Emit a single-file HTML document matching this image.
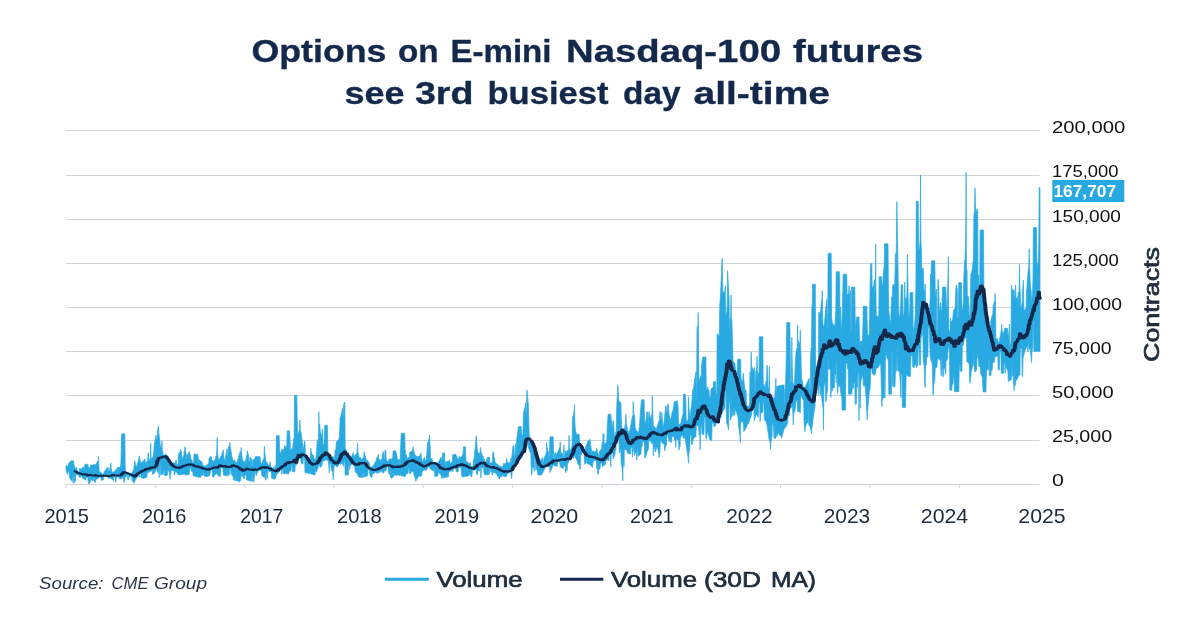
<!DOCTYPE html>
<html lang="en"><head><meta charset="utf-8"><title>Options on E-mini Nasdaq-100 futures see 3rd busiest day all-time</title>
<style>
html,body{margin:0;padding:0;background:#fff;}
body{width:1200px;height:627px;overflow:hidden;font-family:"Liberation Sans",sans-serif;}
svg{display:block}
.title{font:bold 31.5px "Liberation Sans",sans-serif;fill:#13284b;stroke:#13284b;stroke-width:0.35px;}
.grid line{stroke:#d0d4da;stroke-width:1;}
.ticks line{stroke:#d6dade;stroke-width:1.2;}
.ylab text{font:17px "Liberation Sans",sans-serif;fill:#111;}
.xlab text{font:19.8px "Liberation Sans",sans-serif;fill:#1f2b3a;text-anchor:middle;}
.leg{font:22.2px "Liberation Sans",sans-serif;fill:#1f2d3d;stroke:#1f2d3d;stroke-width:0.7px;}
.src{font:italic 17px "Liberation Sans",sans-serif;fill:#2a3646;}
</style></head><body>
<svg width="1200" height="627" viewBox="0 0 1200 627">
<rect width="1200" height="627" fill="#fff"/>
<text class="title" y="62"><tspan x="251.49" textLength="135.02" lengthAdjust="spacingAndGlyphs">Options</tspan> <tspan x="397.97" textLength="40.61" lengthAdjust="spacingAndGlyphs">on</tspan> <tspan x="450.49" textLength="101.02" lengthAdjust="spacingAndGlyphs">E-mini</tspan> <tspan x="566.00" textLength="215.01" lengthAdjust="spacingAndGlyphs">Nasdaq-100</tspan> <tspan x="792.99" textLength="130.02" lengthAdjust="spacingAndGlyphs">futures</tspan></text>
<text class="title" y="104"><tspan x="344.47" textLength="60.05" lengthAdjust="spacingAndGlyphs">see</tspan> <tspan x="414.96" textLength="58.55" lengthAdjust="spacingAndGlyphs">3rd</tspan> <tspan x="487.50" textLength="120.99" lengthAdjust="spacingAndGlyphs">busiest</tspan> <tspan x="623.00" textLength="57.51" lengthAdjust="spacingAndGlyphs">day</tspan> <tspan x="693.49" textLength="136.52" lengthAdjust="spacingAndGlyphs">all-time</tspan></text>
<g class="grid"><line x1="66" x2="1039.5" y1="130.50" y2="130.50"/><line x1="66" x2="1039.5" y1="175.50" y2="175.50"/><line x1="66" x2="1039.5" y1="219.50" y2="219.50"/><line x1="66" x2="1039.5" y1="263.50" y2="263.50"/><line x1="66" x2="1039.5" y1="307.50" y2="307.50"/><line x1="66" x2="1039.5" y1="351.50" y2="351.50"/><line x1="66" x2="1039.5" y1="395.50" y2="395.50"/><line x1="66" x2="1039.5" y1="440.50" y2="440.50"/><line x1="66" x2="1039.5" y1="484.50" y2="484.50"/></g>
<g class="ticks"><line x1="66.0" x2="66.0" y1="484.5" y2="488"/><line x1="155.3" x2="155.3" y1="484.5" y2="488"/><line x1="244.7" x2="244.7" y1="484.5" y2="488"/><line x1="334.0" x2="334.0" y1="484.5" y2="488"/><line x1="423.3" x2="423.3" y1="484.5" y2="488"/><line x1="512.6" x2="512.6" y1="484.5" y2="488"/><line x1="602.0" x2="602.0" y1="484.5" y2="488"/><line x1="691.3" x2="691.3" y1="484.5" y2="488"/><line x1="780.6" x2="780.6" y1="484.5" y2="488"/><line x1="870.0" x2="870.0" y1="484.5" y2="488"/><line x1="959.3" x2="959.3" y1="484.5" y2="488"/></g>
<path d="M66,465.4 66.4,465.6 66.8,465.8 67.2,466 67.5,466.2 67.9,466.3 68.3,466.3 68.7,463.1 69.1,462.8 69.5,462.5 69.9,462.2 70.3,461.9 70.6,461 71,460.8 71.4,460.8 71.8,460.8 72.2,460.8 72.6,460.8 73,460.8 73.3,460.8 73.7,463.2 74.1,464.8 74.5,466.5 74.9,468.2 75.3,468.2 75.7,467.9 76.1,467.9 76.4,467.6 76.8,467.4 77.2,471.4 77.6,471.6 78,471.9 78.4,472.1 78.8,472.2 79.1,472.4 79.5,469.7 79.9,468 80.3,469.3 80.7,469.2 81.1,469 81.5,468.9 81.9,468.7 82.2,467.8 82.6,467.6 83,467.4 83.4,467.1 83.8,466.9 84.2,471.6 84.6,466.3 84.9,464.2 85.3,464.2 85.7,464.2 86.1,464.2 86.5,464.2 86.9,464.2 87.3,464.2 87.7,464.2 88,465.7 88.4,466.7 88.8,467.6 89.2,468.4 89.6,467.7 90,466.9 90.4,466.2 90.7,465 91.1,465 91.5,465 91.9,465 92.3,465 92.7,465 93.1,465 93.5,464.8 93.8,464.3 94.2,464 94.6,465.6 95,465.2 95.4,464.8 95.8,464.3 96.2,463.8 96.5,463.2 96.9,462.5 97.3,461.9 97.7,461.3 98.1,463 98.5,456.7 98.9,466.3 99.3,471.7 99.6,471.8 100,472 100.4,472.1 100.8,472.2 101.2,472.4 101.6,474.4 102,474.3 102.3,474.1 102.7,474 103.1,473.8 103.5,473.6 103.9,473.4 104.3,470.9 104.7,470.8 105.1,470.7 105.4,470.5 105.8,470.4 106.2,468.7 106.6,468.5 107,468.3 107.4,468.1 107.8,467.8 108.1,467.3 108.5,471.5 108.9,471.2 109.3,470.9 109.7,470.6 110.1,467.1 110.5,466.7 110.9,463 111.2,468.5 111.6,470.6 112,472.6 112.4,472.6 112.8,472.3 113.2,472.1 113.6,471.8 113.9,471.6 114.3,471.4 114.7,471.2 115.1,471 115.5,470.8 115.9,469.5 116.3,469.3 116.7,469.1 117,468.8 117.4,467.5 117.8,467.4 118.2,467.3 118.6,467.2 119,467.1 119.4,467 119.7,467.9 120.1,467.1 120.5,467 120.9,463.4 121.3,444.9 121.7,433.8 122.1,433.8 122.5,433.8 122.8,433.8 123.2,433.8 123.6,433.8 124,433.8 124.4,433.8 124.8,433.8 125.2,465.5 125.5,472.4 125.9,472.5 126.3,472.5 126.7,472.6 127.1,472.8 127.5,472.9 127.9,473.1 128.3,473.2 128.6,472.9 129,472.8 129.4,473 129.8,473.1 130.2,473.3 130.6,473.4 131,473.6 131.3,473.5 131.7,473.2 132.1,472.6 132.5,472 132.9,471.2 133.3,470.4 133.7,469.6 134.1,466.1 134.4,464.9 134.8,460.8 135.2,463 135.6,464.2 136,465.4 136.4,466.6 136.8,467.1 137.1,464.6 137.5,462.9 137.9,463.2 138.3,460.5 138.7,459 139.1,455.8 139.5,457.2 139.9,459 140.2,460.8 140.6,462.5 141,463.2 141.4,462.7 141.8,462.1 142.2,461.6 142.6,461.1 142.9,463.9 143.3,462.2 143.7,460.3 144.1,459.8 144.5,459.3 144.9,458.7 145.3,463.1 145.7,462.7 146,462.3 146.4,461.9 146.8,461.6 147.2,461.2 147.6,460.9 148,453.5 148.4,452.7 148.7,461 149.1,460.8 149.5,459.9 149.9,459 150.3,458.1 150.7,443.3 151.1,457.5 151.5,458.6 151.8,459.8 152.2,457.6 152.6,458.4 153,456.8 153.4,455.2 153.8,451.3 154.2,445.6 154.5,443.3 154.9,440.7 155.3,439 155.7,437.1 156.1,435.2 156.5,439.9 156.9,439 157.3,437.7 157.6,429.8 158,428.5 158.4,425.8 158.8,432.2 159.2,436.1 159.6,439.3 160,442.5 160.3,445.3 160.7,448 161.1,448 161.5,446.6 161.9,440.8 162.3,449.7 162.7,451.9 163.1,454.2 163.4,455.8 163.8,455.7 164.2,455.5 164.6,455.3 165,455.2 165.4,454 165.8,453.8 166.1,454.2 166.5,454.7 166.9,455.2 167.3,455.7 167.7,456.2 168.1,456.7 168.5,457 168.9,457.8 169.2,458 169.6,460.7 170,461.3 170.4,461.3 170.8,461.9 171.2,462.4 171.6,462.9 171.9,463.2 172.3,462.9 172.7,463.1 173.1,463.4 173.5,462.8 173.9,462.9 174.3,463.1 174.7,463.3 175,463.3 175.4,462.2 175.8,461.1 176.2,459.9 176.6,464.8 177,464.6 177.4,464.4 177.7,464.1 178.1,463.7 178.5,453.5 178.9,454.9 179.3,454.1 179.7,451.9 180.1,451.4 180.5,450.8 180.8,449.2 181.2,451.6 181.6,454.2 182,457.4 182.4,458.3 182.8,457.9 183.2,457 183.5,456 183.9,455.1 184.3,450.9 184.7,449.8 185.1,446.7 185.5,451 185.9,452.7 186.3,454.4 186.6,456 187,460 187.4,454.1 187.8,459.4 188.2,455.4 188.6,452.5 189,451.9 189.3,451.7 189.7,453.7 190.1,454.6 190.5,455.4 190.9,458.6 191.3,459.3 191.7,460.1 192.1,460.4 192.4,463.1 192.8,463 193.2,462.9 193.6,462.8 194,454.2 194.4,454.2 194.8,454.2 195.1,454.2 195.5,454.2 195.9,454.2 196.3,454.2 196.7,454.2 197.1,454.2 197.5,454.2 197.9,455.4 198.2,456.8 198.6,464.9 199,459.5 199.4,460.2 199.8,460.5 200.2,460.7 200.6,461 200.9,461.2 201.3,461.5 201.7,461.7 202.1,461.9 202.5,465.2 202.9,465.4 203.3,465.5 203.7,465.7 204,465.8 204.4,466 204.8,466.2 205.2,466.1 205.6,466 206,465.5 206.4,465.3 206.7,465 207.1,464.7 207.5,464.4 207.9,464.1 208.3,463.8 208.7,463.5 209.1,458.2 209.5,460.8 209.8,456.7 210.2,456.7 210.6,456.7 211,456.7 211.4,456.7 211.8,460.8 212.2,460.7 212.5,460.6 212.9,460 213.3,461.8 213.7,461.4 214.1,460.9 214.5,460.4 214.9,459.8 215.3,458.9 215.6,457.6 216,456.3 216.4,455.1 216.8,450.9 217.2,437.5 217.6,453 218,456.4 218.3,459.6 218.7,459.3 219.1,459 219.5,458.6 219.9,461.5 220.3,456.9 220.7,456.4 221.1,456.3 221.4,456.2 221.8,454.7 222.2,452.3 222.6,455.8 223,450.2 223.4,450 223.8,457 224.1,458.3 224.5,459.6 224.9,460.9 225.3,460.1 225.7,455.8 226.1,454 226.5,452.1 226.9,450.2 227.2,448.6 227.6,457.8 228,457.6 228.4,447 228.8,446.5 229.2,445.9 229.6,445.4 229.9,442.5 230.3,447.1 230.7,448.6 231.1,451.4 231.5,454.2 231.9,457.1 232.3,457.7 232.7,459.3 233,459.8 233.4,460.4 233.8,461 234.2,460 234.6,460.6 235,461.1 235.4,461.6 235.7,462.1 236.1,462.6 236.5,463.1 236.9,462.6 237.3,461.3 237.7,460 238.1,458.7 238.5,457.4 238.8,456.1 239.2,454.8 239.6,453.4 240,451.9 240.4,451.3 240.8,460.4 241.2,447.5 241.5,453.2 241.9,455.9 242.3,458.7 242.7,460.2 243.1,460.7 243.5,461.2 243.9,461.6 244.3,462 244.6,462.1 245,461.6 245.4,459.9 245.8,464.6 246.2,457.8 246.6,456.2 247,454.7 247.3,450.8 247.7,453.1 248.1,453.9 248.5,454.7 248.9,461.2 249.3,461.7 249.7,462.2 250.1,457.3 250.4,457.7 250.8,458.1 251.2,458.4 251.6,458.8 252,466.2 252.4,466.3 252.8,459.6 253.1,460 253.5,460 253.9,459.6 254.3,459.2 254.7,458.9 255.1,456.7 255.5,456.6 255.9,456.6 256.2,456.5 256.6,456.5 257,456.4 257.4,456.3 257.8,456.4 258.2,456.4 258.6,456.5 258.9,456.5 259.3,456.6 259.7,456.6 260.1,456.7 260.5,461.4 260.9,462.1 261.3,463.9 261.7,464.4 262,463.3 262.4,462.1 262.8,460.9 263.2,459.7 263.6,458.5 264,457.4 264.4,446.3 264.7,451.4 265.1,454.8 265.5,458.2 265.9,461 266.3,461.8 266.7,462.4 267.1,462.5 267.5,463.2 267.8,464 268.2,464.8 268.6,465.3 269,464.9 269.4,464.4 269.8,464 270.2,461.7 270.5,466 270.9,466.6 271.3,467.1 271.7,467.6 272.1,468.2 272.5,468.7 272.9,468.8 273.3,466.8 273.6,468.3 274,468.3 274.4,468.2 274.8,468.1 275.2,465.4 275.6,469.5 276,467.3 276.3,435.5 276.7,435.5 277.1,435.5 277.5,435.5 277.9,435.5 278.3,435.5 278.7,435.5 279.1,435.5 279.4,441.9 279.8,451 280.2,454.4 280.6,453.3 281,452.1 281.4,451 281.8,449.8 282.1,448.7 282.5,450.2 282.9,450 283.3,449.7 283.7,449.4 284.1,449.2 284.5,446.6 284.9,445.8 285.2,446.2 285.6,446.8 286,447.4 286.4,447.9 286.8,444.2 287.2,430.8 287.6,430.8 287.9,430.8 288.3,430.8 288.7,430.8 289.1,430.8 289.5,430.8 289.9,436.7 290.3,447.3 290.7,457.6 291,449.4 291.4,448.9 291.8,448.7 292.2,448.6 292.6,447.8 293,444.7 293.4,441.7 293.7,438.6 294.1,439.9 294.5,395.3 294.9,395.3 295.3,395.3 295.7,395.3 296.1,395.3 296.5,395.3 296.8,395.3 297.2,417.6 297.6,433.4 298,434.5 298.4,433.1 298.8,431.7 299.2,430.4 299.5,429 299.9,420 300.3,429.4 300.7,432.1 301.1,432.6 301.5,435.7 301.9,438.6 302.3,441.4 302.6,444.1 303,451.6 303.4,448 303.8,445.8 304.2,443.7 304.6,440.8 305,442.5 305.3,452.7 305.7,453.6 306.1,454.5 306.5,455.4 306.9,456.1 307.3,456.9 307.7,457.4 308.1,458 308.4,458.5 308.8,459 309.2,459.5 309.6,459.6 310,459.7 310.4,459.9 310.8,448.3 311.1,451.7 311.5,452.6 311.9,453.4 312.3,454.3 312.7,455.2 313.1,456 313.5,455 313.8,458 314.2,458.4 314.6,458.7 315,459.1 315.4,459.4 315.8,459.1 316.2,455.2 316.6,450.6 316.9,446.1 317.3,439.5 317.7,446 318.1,442.1 318.5,443.8 318.9,411.7 319.3,442.7 319.6,424 320,428.4 320.4,431.7 320.8,433.4 321.2,434.7 321.6,436.1 322,434.3 322.4,429.2 322.7,432.9 323.1,444.3 323.5,446.1 323.9,444.9 324.3,441.7 324.7,425.3 325.1,425.3 325.4,425.3 325.8,425.3 326.2,425.3 326.6,425.3 327,425.3 327.4,425.3 327.8,450.5 328.2,454 328.5,454.6 328.9,455.2 329.3,455.8 329.7,456.5 330.1,457.1 330.5,457.7 330.9,457.2 331.2,457.5 331.6,457.8 332,458.6 332.4,458.4 332.8,456.2 333.2,457.2 333.6,457.4 334,457.6 334.3,457.9 334.7,458.1 335.1,450.1 335.5,449.9 335.9,449.7 336.3,442.8 336.7,441.4 337,441.2 337.4,440.9 337.8,440.7 338.2,439.9 338.6,439.6 339,439.2 339.4,435.6 339.8,428.7 340.1,418.3 340.5,417.4 340.9,415.6 341.3,413.9 341.7,412.1 342.1,410.3 342.5,408.3 342.8,414.7 343.2,415.8 343.6,405.2 344,404.1 344.4,403 344.8,402 345.2,448.3 345.6,448.6 345.9,448.8 346.3,452.5 346.7,452.8 347.1,453.4 347.5,453.9 347.9,452.5 348.3,453.3 348.6,454.2 349,455 349.4,455.5 349.8,455.8 350.2,455.7 350.6,456 351,456.3 351.4,456.6 351.7,456.6 352.1,455.6 352.5,454.6 352.9,453.6 353.3,452.6 353.7,456.8 354.1,456.2 354.4,455.8 354.8,455.4 355.2,454.9 355.6,454.5 356,454.1 356.4,453.8 356.8,455.1 357.2,450 357.5,443.3 357.9,451.6 358.3,453.4 358.7,455.3 359.1,457.7 359.5,457.1 359.9,457.3 360.2,457.4 360.6,457.6 361,459.2 361.4,459.3 361.8,459.3 362.2,458.8 362.6,458.5 363,458.1 363.3,457.6 363.7,457.2 364.1,451.7 364.5,453.6 364.9,454.8 365.3,456 365.7,457.3 366,458.7 366.4,462.4 366.8,460 367.2,460.5 367.6,460.9 368,461.3 368.4,461.7 368.8,462.1 369.1,462.5 369.5,466.1 369.9,466.4 370.3,466.7 370.7,467 371.1,467.2 371.5,467.4 371.8,467.5 372.2,466.4 372.6,466.4 373,465.9 373.4,465.4 373.8,465 374.2,463.8 374.6,463.2 374.9,462.6 375.3,462.1 375.7,461.6 376.1,461.1 376.5,458.1 376.9,457.4 377.3,457.8 377.6,457.2 378,455.9 378.4,454.2 378.8,458.4 379.2,458.9 379.6,459.3 380,459.8 380.4,460.2 380.7,460.6 381.1,460 381.5,459.1 381.9,462.9 382.3,454.6 382.7,453.4 383.1,452.3 383.4,451.5 383.8,453.4 384.2,460 384.6,459.9 385,450.3 385.4,450.2 385.8,450 386.2,459.3 386.5,460 386.9,460.6 387.3,461.3 387.7,461.6 388.1,461.7 388.5,461.8 388.9,458.9 389.2,459 389.6,459.8 390,460 390.4,459.3 390.8,458.7 391.2,459.8 391.6,459.3 392,458.8 392.3,458.3 392.7,457.9 393.1,451.3 393.5,450.8 393.9,450.8 394.3,450.8 394.7,450.8 395,450.8 395.4,450.8 395.8,450.8 396.2,453.1 396.6,454.8 397,456.5 397.4,459.7 397.8,460 398.1,459.8 398.5,459.6 398.9,459.4 399.3,459.1 399.7,464.6 400.1,464.1 400.5,449.7 400.8,443.4 401.2,433.3 401.6,433.3 402,433.3 402.4,433.3 402.8,433.3 403.2,433.3 403.6,433.3 403.9,433.3 404.3,433.3 404.7,433.3 405.1,448.6 405.5,453.8 405.9,454.4 406.3,454.8 406.6,456.8 407,458.2 407.4,458.4 407.8,458.1 408.2,457.7 408.6,457.2 409,456.8 409.4,456.3 409.7,452.1 410.1,452.5 410.5,452.1 410.9,451.6 411.3,451.2 411.7,450.8 412.1,450.4 412.4,450 412.8,449.6 413.2,446.7 413.6,449.8 414,451.5 414.4,453.2 414.8,454.9 415.2,455.1 415.5,455.4 415.9,455.7 416.3,455.9 416.7,456.2 417.1,456.7 417.5,457 417.9,456.2 418.2,456.9 418.6,456.6 419,456.2 419.4,455.8 419.8,455.3 420.2,455 420.6,458.7 421,452.5 421.3,457.4 421.7,458.4 422.1,461.5 422.5,462.2 422.9,461.1 423.3,460.1 423.7,459.1 424,457.7 424.4,457.7 424.8,457.6 425.2,460.8 425.6,460.6 426,460.3 426.4,460.1 426.8,452.1 427.1,449.5 427.5,442.6 427.9,456.6 428.3,441 428.7,439.7 429.1,438.4 429.5,435 429.8,441.5 430.2,446.5 430.6,458.8 431,458.8 431.4,458.7 431.8,458.7 432.2,458.8 432.6,461 432.9,462.5 433.3,462.8 433.7,462.4 434.1,462.5 434.5,462.4 434.9,462.4 435.3,462.5 435.6,462.8 436,463 436.4,463.2 436.8,463.2 437.2,463 437.6,462.8 438,462.5 438.4,462.3 438.7,461.5 439.1,460.8 439.5,460.1 439.9,459.3 440.3,458.6 440.7,457.5 441.1,457.3 441.4,459.6 441.8,459.3 442.2,459.1 442.6,453 443,453 443.4,453 443.8,453 444.2,453 444.5,453 444.9,463.4 445.3,464.6 445.7,461.3 446.1,461.7 446.5,461.5 446.9,461.3 447.2,461.1 447.6,461.9 448,461.8 448.4,460.8 448.8,463.3 449.2,461 449.6,459.8 450,463.7 450.3,463.3 450.7,463 451.1,462.6 451.5,462.2 451.9,461.9 452.3,461.5 452.7,454.6 453,455.2 453.4,455.1 453.8,455.1 454.2,454.2 454.6,454.4 455,454.3 455.4,454.2 455.8,454.2 456.1,455.5 456.5,456 456.9,457 457.3,457.9 457.7,459.7 458.1,459.2 458.5,458.8 458.8,458.4 459.2,456.1 459.6,459.8 460,457.9 460.4,457.5 460.8,457.1 461.2,456.8 461.6,456.4 461.9,456 462.3,455.6 462.7,454.7 463.1,453.1 463.5,446.7 463.9,446.7 464.3,446.7 464.6,446.7 465,446.7 465.4,446.7 465.8,456.7 466.2,461.7 466.6,462.1 467,462.5 467.4,461.8 467.7,462.2 468.1,462.6 468.5,463 468.9,463.5 469.3,463.6 469.7,463.3 470.1,463 470.4,462.7 470.8,466.6 471.2,466.5 471.6,466.5 472,466.4 472.4,466.4 472.8,466.1 473.2,465.7 473.5,460.3 473.9,459.1 474.3,457.9 474.7,451.2 475.1,448.5 475.5,445.3 475.9,438.5 476.2,435.8 476.6,441.5 477,446 477.4,450.6 477.8,452 478.2,452.9 478.6,453.3 479,453.7 479.3,454.4 479.7,452.9 480.1,451.4 480.5,447.5 480.9,451.2 481.3,452.4 481.7,453.6 482,457.5 482.4,455.2 482.8,455.9 483.2,456.9 483.6,457.9 484,459 484.4,460 484.8,462.7 485.1,463.1 485.5,463.1 485.9,463.1 486.3,463.2 486.7,458.9 487.1,458.2 487.5,457.5 487.8,457.4 488.2,457.3 488.6,457.2 489,457.1 489.4,457 489.8,463 490.2,463 490.6,463 490.9,462.9 491.3,462.7 491.7,462.5 492.1,462.2 492.5,462 492.9,453.1 493.3,459.3 493.6,451.7 494,460.4 494.4,457.8 494.8,460.5 495.2,462.1 495.6,462.5 496,463.4 496.4,463.4 496.7,463.7 497.1,464.1 497.5,464.5 497.9,464.9 498.3,465.2 498.7,465.4 499.1,465.8 499.4,466 499.8,466.2 500.2,466.4 500.6,466.6 501,466.8 501.4,467 501.8,466.9 502.2,466.3 502.5,466.4 502.9,465.9 503.3,465.4 503.7,463.2 504.1,464.3 504.5,464 504.9,463.6 505.2,463.3 505.6,462.9 506,462.5 506.4,462.1 506.8,458.3 507.2,462 507.6,462.2 508,462.4 508.3,462.6 508.7,462.8 509.1,462.9 509.5,462.6 509.9,462.6 510.3,462.2 510.7,458.1 511,463.2 511.4,462.8 511.8,456.7 512.2,453.4 512.6,450.1 513,445.8 513.4,445.8 513.8,445.8 514.1,453.7 514.5,457.1 514.9,456.8 515.3,444.9 515.7,443.8 516.1,457.2 516.5,441.2 516.8,439.1 517.2,436.1 517.6,433 518,430 518.4,426.7 518.8,426.6 519.2,426.6 519.6,426.5 519.9,426.5 520.3,426.4 520.7,426.4 521.1,426.4 521.5,431.2 521.9,434.9 522.3,435.3 522.6,436.7 523,432.2 523.4,413.3 523.8,411.8 524.2,410.2 524.6,408.6 525,406.9 525.4,405.2 525.7,402.6 526.1,416.4 526.5,418.3 526.9,390 527.3,393.2 527.7,397.6 528.1,401.9 528.4,405 528.8,423 529.2,435 529.6,436.3 530,437.5 530.4,438.7 530.8,439.8 531.2,440.4 531.5,441.1 531.9,441.7 532.3,442.3 532.7,442.9 533.1,443.6 533.5,444.1 533.9,444.4 534.2,445.2 534.6,446 535,446.7 535.4,447.5 535.8,448.3 536.2,449.3 536.6,451.2 537,452.3 537.3,453.3 537.7,454.4 538.1,455.5 538.5,456.1 538.9,457.2 539.3,458 539.7,458.7 540,460.1 540.4,460.8 540.8,460.4 541.2,459.7 541.6,459.1 542,458.4 542.4,457.4 542.8,461.1 543.1,463.3 543.5,463 543.9,458.7 544.3,457.7 544.7,456.8 545.1,455.9 545.5,455.1 545.8,454.2 546.2,453.4 546.6,442.5 547,447.2 547.4,449 547.8,450.8 548.2,452.6 548.6,451.7 548.9,459.2 549.3,458.2 549.7,443.3 550.1,436.7 550.5,436.7 550.9,436.7 551.3,436.7 551.6,436.7 552,436.7 552.4,436.7 552.8,436.7 553.2,436.7 553.6,457.4 554,457.5 554.4,458.7 554.7,453 555.1,452.7 555.5,452.4 555.9,454.7 556.3,454.1 556.7,453.9 557.1,453.3 557.4,452.7 557.8,452.1 558.2,451.3 558.6,450.5 559,449.3 559.4,448.1 559.8,450.1 560.2,441.7 560.5,451 560.9,452 561.3,453 561.7,453.9 562.1,453.5 562.5,453.1 562.9,457.5 563.2,457.4 563.6,457.3 564,445 564.4,457.4 564.8,457.7 565.2,450.3 565.6,451.7 566,452.5 566.3,452 566.7,451.5 567.1,451.1 567.5,450.6 567.9,450.1 568.3,449.6 568.7,453 569,435.2 569.4,450.8 569.8,450.6 570.2,450.1 570.6,449.3 571,448.6 571.4,447.8 571.8,446.3 572.1,444.9 572.5,418.2 572.9,416.1 573.3,416.3 573.7,414.7 574.1,410.5 574.5,404.7 574.8,420.1 575.2,428.2 575.6,431.3 576,432.8 576.4,434.3 576.8,434.2 577.2,434.2 577.6,434.2 577.9,434.2 578.3,434.2 578.7,434.2 579.1,434.2 579.5,439.3 579.9,443.5 580.3,444.4 580.6,443.9 581,444.1 581.4,444.4 581.8,444.7 582.2,445 582.6,446.8 583,447.5 583.4,448.2 583.7,448.2 584.1,448.8 584.5,449.3 584.9,449.8 585.3,449.5 585.7,446.6 586.1,445.6 586.4,444.5 586.8,444.1 587.2,443.2 587.6,441.6 588,441.2 588.4,440.8 588.8,440.4 589.2,440 589.5,439.6 589.9,439.2 590.3,442.1 590.7,444.9 591.1,447.7 591.5,450.5 591.9,451.7 592.2,451.5 592.6,451.3 593,451 593.4,450.8 593.8,452.1 594.2,452 594.6,451.8 595,451.7 595.3,451.5 595.7,451.3 596.1,452.1 596.5,448.3 596.9,448.6 597.3,452.7 597.7,453.1 598,453.5 598.4,454 598.8,457.7 599.2,458 599.6,451.3 600,450.8 600.4,450.3 600.8,449.8 601.1,449.3 601.5,448.6 601.9,445.9 602.3,442.2 602.7,456 603.1,433.3 603.5,455.2 603.8,434.1 604.2,443.9 604.6,444 605,444 605.4,443.4 605.8,442.8 606.2,442.2 606.6,441.5 606.9,439.1 607.3,425.4 607.7,420.7 608.1,414.2 608.5,414.2 608.9,414.2 609.3,414.2 609.6,414.2 610,414.2 610.4,414.2 610.8,414.2 611.2,419.3 611.6,423.2 612,427.9 612.4,425.9 612.7,423.2 613.1,420.6 613.5,421.8 613.9,427.4 614.3,437.7 614.7,436.3 615.1,434.8 615.4,433.4 615.8,432 616.2,430.9 616.6,411.6 617,400.2 617.4,396 617.8,384.8 618.2,390 618.5,398.2 618.9,401 619.3,401.3 619.7,401.6 620.1,401.9 620.5,402.2 620.9,402.5 621.2,417.9 621.6,423.7 622,430.3 622.4,430.2 622.8,430.4 623.2,429.4 623.6,429.7 624,430.5 624.3,429.7 624.7,427.4 625.1,425.3 625.5,423.3 625.9,414.2 626.3,422.7 626.7,424.8 627,426.9 627.4,429.1 627.8,430.2 628.2,431.2 628.6,432.2 629,433.2 629.4,432.2 629.8,430.3 630.1,428.4 630.5,426.4 630.9,424.4 631.3,422.1 631.7,419.9 632.1,418 632.5,416.1 632.8,424.8 633.2,401.7 633.6,412.3 634,416.1 634.4,415 634.8,418.4 635.2,427.5 635.6,428.3 635.9,429.2 636.3,430.2 636.7,431 637.1,431.3 637.5,431.6 637.9,431.9 638.3,432.2 638.6,433.5 639,429.8 639.4,426.5 639.8,421.1 640.2,415.7 640.6,410.2 641,404.8 641.4,399.7 641.7,399.7 642.1,399.7 642.5,399.7 642.9,399.7 643.3,399.7 643.7,399.7 644.1,399.7 644.4,414 644.8,420.9 645.2,424.9 645.6,423.1 646,420.1 646.4,418.1 646.8,411.7 647.2,411.8 647.5,412 647.9,418.1 648.3,429.7 648.7,414 649.1,411.7 649.5,415.2 649.9,416.5 650.2,417.7 650.6,418.9 651,416.7 651.4,414.7 651.8,429.4 652.2,395.8 652.6,405.9 653,418.7 653.3,426.5 653.7,431.8 654.1,426.2 654.5,426.7 654.9,427.2 655.3,427.7 655.7,428.2 656,429.7 656.4,428.6 656.8,427.4 657.2,426.3 657.6,425.2 658,424 658.4,422.9 658.8,421.2 659.1,420.5 659.5,419.7 659.9,411.7 660.3,411.8 660.7,419 661.1,419.1 661.5,419.3 661.8,412.5 662.2,417.9 662.6,421.5 663,425.2 663.4,428 663.8,424.6 664.2,421.1 664.6,417.6 664.9,414.1 665.3,410.7 665.7,406.1 666.1,406 666.5,412.5 666.9,412.3 667.3,412.2 667.6,404.4 668,404.3 668.4,404.2 668.8,412.4 669.2,415 669.6,417.7 670,420.4 670.4,419.6 670.7,418.5 671.1,417.5 671.5,416.4 671.9,413.2 672.3,412 672.7,410.5 673.1,413.5 673.4,407.4 673.8,405.6 674.2,401.7 674.6,401.6 675,401.5 675.4,401.4 675.8,401.3 676.2,403.5 676.5,401.1 676.9,401 677.3,400.8 677.7,403.3 678.1,406.5 678.5,425.6 678.9,423.8 679.2,424.9 679.6,424.7 680,424.6 680.4,423.9 680.8,423.1 681.2,422 681.6,419 682,417.7 682.3,416.4 682.7,415.1 683.1,413.8 683.5,394.2 683.9,394.2 684.3,394.2 684.7,394.2 685,394.2 685.4,394.2 685.8,401.5 686.2,420.3 686.6,421.4 687,421.1 687.4,420.3 687.8,419.8 688.1,419.3 688.5,396.7 688.9,407.1 689.3,411 689.7,415 690.1,415.9 690.5,413.1 690.8,410.4 691.2,407.7 691.6,404.6 692,399.7 692.4,394.4 692.8,389.2 693.2,394.8 693.6,390.4 693.9,386.1 694.3,381.9 694.7,378.3 695.1,378.7 695.5,375.3 695.9,372 696.3,406.9 696.6,382.1 697,329.9 697.4,326 697.8,385.6 698.2,312.5 698.6,355.4 699,381.6 699.4,380.4 699.7,379.2 700.1,378.1 700.5,376.9 700.9,375.8 701.3,374.7 701.7,365.3 702.1,360.7 702.4,359.4 702.8,357 703.2,357 703.6,357 704,357 704.4,357 704.8,357 705.2,357 705.5,357 705.9,357 706.3,389.3 706.7,388.9 707.1,388.5 707.5,388.2 707.9,386.8 708.2,390.6 708.6,390.3 709,390.1 709.4,397.3 709.8,397 710.2,396.7 710.6,396.4 711,389.2 711.3,388.8 711.7,388.4 712.1,388.1 712.5,387.7 712.9,387.5 713.3,387.3 713.7,381.3 714,382.3 714.4,381.9 714.8,381.5 715.2,381.1 715.6,383.1 716,394.5 716.4,394.2 716.8,393.9 717.1,334.2 717.5,334.2 717.9,334.2 718.3,335.9 718.7,335.8 719.1,335.8 719.5,324.6 719.8,303.9 720.2,300.1 720.6,292.3 721,284.5 721.4,274.4 721.8,264.2 722.2,258.3 722.6,280.8 722.9,292 723.3,293.3 723.7,292.6 724.1,292 724.5,291.4 724.9,290.7 725.3,285.8 725.6,314.7 726,314.5 726.4,314.4 726.8,312 727.2,305.6 727.6,270.8 728,279.1 728.4,285.1 728.7,292.8 729.1,300.4 729.5,339.2 729.9,320.5 730.3,318.6 730.7,316.8 731.1,295 731.4,318.9 731.8,319.7 732.2,330.9 732.6,344.6 733,361.2 733.4,361.8 733.8,362.2 734.2,362.5 734.5,362.8 734.9,363.3 735.3,368 735.7,374.4 736.1,377.5 736.5,378.9 736.9,374.6 737.2,367.7 737.6,359.2 738,359.2 738.4,359.2 738.8,359.2 739.2,359.2 739.6,359.2 740,359.2 740.3,359.2 740.7,359.2 741.1,380.4 741.5,379.4 741.9,382.2 742.3,381.5 742.7,380.8 743,376.5 743.4,373.3 743.8,380.1 744.2,383.5 744.6,386.9 745,390.3 745.4,390.3 745.8,390.2 746.1,390.6 746.5,405.2 746.9,405.5 747.3,405.9 747.7,406.2 748.1,406.6 748.5,406.4 748.8,406 749.2,405.7 749.6,403.5 750,371.7 750.4,380.6 750.8,371.6 751.2,352 751.6,367.3 751.9,371.3 752.3,367.3 752.7,369.2 753.1,370.5 753.5,369.7 753.9,368.9 754.3,368.1 754.6,367.4 755,391.2 755.4,390.2 755.8,371.7 756.2,370.5 756.6,369.3 757,356.3 757.4,370.5 757.7,373.4 758.1,376.4 758.5,372.8 758.9,384.2 759.3,336.7 759.7,336.7 760.1,336.7 760.4,336.7 760.8,336.7 761.2,336.7 761.6,336.7 762,336.7 762.4,336.7 762.8,336.7 763.2,383.3 763.5,386.1 763.9,385.3 764.3,384.6 764.7,387.5 765.1,387 765.5,386.8 765.9,381.2 766.2,380.8 766.6,380.4 767,365 767.4,369.6 767.8,379 768.2,388.5 768.6,388.4 769,387 769.3,366.7 769.7,394.1 770.1,395.6 770.5,396.7 770.9,397.4 771.3,398 771.7,399 772,400.1 772.4,401.1 772.8,397 773.2,397.9 773.6,398.1 774,397.9 774.4,397.8 774.8,397.6 775.1,390.8 775.5,390 775.9,378.3 776.3,400.5 776.7,386.2 777.1,387.3 777.5,387.3 777.8,385.9 778.2,385.8 778.6,385.8 779,385.7 779.4,385.6 779.8,385.6 780.2,385.5 780.6,385.5 780.9,385.4 781.3,385.3 781.7,385.3 782.1,385.2 782.5,385.1 782.9,385.1 783.3,385 783.6,384.9 784,384.9 784.4,411.5 784.8,389.1 785.2,389 785.6,381.1 786,369.4 786.4,350 786.7,322.5 787.1,322.5 787.5,322.5 787.9,322.5 788.3,322.5 788.7,322.5 789.1,322.5 789.4,322.5 789.8,322.5 790.2,347 790.6,384.8 791,382.6 791.4,380.5 791.8,337.5 792.2,364.5 792.5,377.2 792.9,382.3 793.3,383.6 793.7,386.1 794.1,385.5 794.5,381.1 794.9,373 795.2,365 795.6,356.9 796,352 796.4,350.5 796.8,349 797.2,347.5 797.6,325 797.9,353.3 798.3,340.8 798.7,342 799.1,343.3 799.5,343.2 799.9,342.8 800.3,330 800.7,350 801,354.1 801.4,376.4 801.8,378.9 802.2,381 802.6,383.2 803,385.3 803.4,387.3 803.7,387.6 804.1,387.9 804.5,386.7 804.9,386.9 805.3,387.1 805.7,387.2 806.1,384.6 806.5,383.8 806.8,383.1 807.2,382.3 807.6,381.6 808,380.8 808.4,380 808.8,379.3 809.2,378.4 809.5,390.6 809.9,389.5 810.3,388.1 810.7,355.8 811.1,348.6 811.5,347.2 811.9,305.9 812.3,304 812.6,284.2 813,284.2 813.4,284.2 813.8,284.2 814.2,284.2 814.6,284.2 815,284.2 815.3,284.2 815.7,373.6 816.1,370.5 816.5,367.3 816.9,365.1 817.3,363.5 817.7,361.8 818.1,360.2 818.4,358.5 818.8,312.1 819.2,312.1 819.6,312.9 820,313.6 820.4,314.3 820.8,309.8 821.1,304.7 821.5,301.7 821.9,298.7 822.3,290.8 822.7,316.2 823.1,327.1 823.5,326.2 823.9,325.4 824.2,324.6 824.6,321.8 825,317.4 825.4,312.5 825.8,307 826.2,304.6 826.6,301.9 826.9,299.2 827.3,331.1 827.7,328.3 828.1,253.3 828.5,253.3 828.9,253.3 829.3,253.3 829.7,253.3 830,253.3 830.4,253.3 830.8,253.3 831.2,253.3 831.6,315.9 832,320.6 832.4,325.3 832.7,323.1 833.1,324.1 833.5,325.1 833.9,326.1 834.3,326.3 834.7,325 835.1,323.7 835.5,316.5 835.8,309.3 836.2,271.7 836.6,271.7 837,271.7 837.4,271.7 837.8,271.7 838.2,271.7 838.5,271.7 838.9,271.7 839.3,271.7 839.7,279.7 840.1,333.5 840.5,307.1 840.9,317.1 841.3,324.2 841.6,331.4 842,322.1 842.4,307.5 842.8,290.4 843.2,274.2 843.6,274.2 844,274.2 844.3,274.2 844.7,274.2 845.1,274.2 845.5,274.2 845.9,274.2 846.3,274.2 846.7,274.2 847.1,292.8 847.4,295.3 847.8,294.8 848.2,294.2 848.6,293.6 849,285.8 849.4,293.1 849.8,293.9 850.1,294.6 850.5,290.4 850.9,331.7 851.3,331.3 851.7,287 852.1,287 852.5,287 852.9,287 853.2,287 853.6,287 854,287 854.4,287 854.8,287 855.2,319.1 855.6,338.2 855.9,322.5 856.3,319.7 856.7,317 857.1,317 857.5,317 857.9,317 858.3,317 858.7,317 859,317 859.4,332.9 859.8,341.2 860.2,348.6 860.6,341.3 861,341.3 861.4,341.3 861.7,341.3 862.1,341.3 862.5,340.5 862.9,325.7 863.3,306.3 863.7,306.3 864.1,306.3 864.5,306.3 864.8,306.3 865.2,306.3 865.6,306.3 866,306.3 866.4,306.3 866.8,306.3 867.2,322.7 867.5,333.5 867.9,334.4 868.3,335 868.7,335.8 869.1,336.5 869.5,319.5 869.9,298.5 870.3,276.1 870.6,263.7 871,263.7 871.4,263.7 871.8,263.7 872.2,287.9 872.6,287.5 873,287.1 873.3,286.6 873.7,284.6 874.1,282.3 874.5,279.5 874.9,294 875.3,291.5 875.7,244.2 876.1,308.5 876.4,315 876.8,315.7 877.2,316.4 877.6,317.4 878,316.8 878.4,316.2 878.8,313.8 879.1,276.7 879.5,276.7 879.9,276.7 880.3,276.7 880.7,276.7 881.1,276.7 881.5,276.7 881.9,284.4 882.2,284.1 882.6,288.5 883,280.3 883.4,270.8 883.8,270.8 884.2,266.2 884.6,243.7 884.9,243.7 885.3,243.7 885.7,243.7 886.1,243.7 886.5,243.7 886.9,243.7 887.3,243.7 887.7,243.7 888,243.7 888.4,289 888.8,310.8 889.2,314.9 889.6,317.9 890,321.1 890.4,324.4 890.7,319.5 891.1,310.2 891.5,297.3 891.9,296.9 892.3,296.1 892.7,286.4 893.1,284.2 893.5,284.4 893.8,285.7 894.2,285.8 894.6,286 895,272.9 895.4,253.4 895.8,278.7 896.2,261.4 896.5,225.7 896.9,201.7 897.3,227.8 897.7,247.9 898.1,272.9 898.5,300.3 898.9,314.1 899.3,315.4 899.6,316.8 900,317.4 900.4,307.9 900.8,299 901.2,284.7 901.6,284.7 902,284.7 902.3,284.7 902.7,284.7 903.1,314.6 903.5,315.2 903.9,315.9 904.3,307.2 904.7,282.1 905.1,299.1 905.4,298.2 905.8,300 906.2,301.4 906.6,297.7 907,291.7 907.4,254.7 907.8,276.6 908.1,293.1 908.5,310.4 908.9,316.3 909.3,317.4 909.7,310.3 910.1,292.5 910.5,292.5 910.9,292.5 911.2,292.5 911.6,292.5 912,292.5 912.4,292.5 912.8,292.5 913.2,330.3 913.6,342.5 913.9,328.5 914.3,326.5 914.7,323.1 915.1,316.7 915.5,302.6 915.9,286.8 916.3,201.3 916.7,201.3 917,201.3 917.4,201.3 917.8,201.3 918.2,201.3 918.6,250.5 919,249.6 919.4,248.6 919.7,246.4 920.1,239.1 920.5,175 920.9,240.2 921.3,247.7 921.7,268.1 922.1,270.3 922.5,269.4 922.8,268.6 923.2,267.8 923.6,281 924,290.6 924.4,290.6 924.8,290.5 925.2,284.2 925.5,301.6 925.9,301.9 926.3,303.6 926.7,305.3 927.1,307 927.5,308.7 927.9,310.4 928.3,312 928.6,313.8 929,315.6 929.4,314 929.8,306.3 930.2,297.2 930.6,274 931,286.4 931.3,263.7 931.7,260.8 932.1,260.8 932.5,260.8 932.9,260.8 933.3,260.8 933.7,260.8 934.1,260.8 934.4,260.8 934.8,260.8 935.2,288.4 935.6,300.6 936,290.8 936.4,289.1 936.8,333 937.1,332.8 937.5,332.5 937.9,281.5 938.3,279.2 938.7,285.7 939.1,310.5 939.5,311.5 939.9,308.5 940.2,305.4 940.6,302.5 941,310.2 941.4,310.5 941.8,310.7 942.2,298.3 942.6,287 942.9,287 943.3,287 943.7,287 944.1,287 944.5,287 944.9,287 945.3,287 945.7,287 946,292.3 946.4,306.7 946.8,310.4 947.2,304.7 947.6,290.2 948,276.6 948.4,256.7 948.7,329.9 949.1,330.6 949.5,333.3 949.9,334 950.3,318.1 950.7,320.5 951.1,321.4 951.5,321.2 951.8,321 952.2,320.8 952.6,319.5 953,315.5 953.4,310.7 953.8,310.1 954.2,309.4 954.5,308.8 954.9,308.1 955.3,307.4 955.7,291.6 956.1,285.6 956.5,285 956.9,287.6 957.3,288.7 957.6,318.2 958,317.4 958.4,316.6 958.8,282.5 959.2,282.5 959.6,282.5 960,282.5 960.3,282.5 960.7,282.5 961.1,282.5 961.5,284.6 961.9,310.3 962.3,309.9 962.7,308.4 963.1,305.3 963.4,302.2 963.8,278 964.2,269.9 964.6,260.6 965,259.6 965.4,247.4 965.8,230.9 966.1,172.5 966.5,297.3 966.9,269.7 967.3,295.6 967.7,296.3 968.1,296.5 968.5,296.6 968.9,308 969.2,314.9 969.6,315.4 970,315.2 970.4,298.8 970.8,274.5 971.2,273.6 971.6,272.5 971.9,270.9 972.3,268.6 972.7,266.1 973.1,262.1 973.5,258.1 973.9,215.5 974.3,212.4 974.7,206.6 975,188 975.4,204.2 975.8,211.6 976.2,211.5 976.6,211.5 977,209.2 977.4,209.2 977.7,209.2 978.1,282.9 978.5,275 978.9,285.7 979.3,286.1 979.7,285.1 980.1,230 980.5,230 980.8,230 981.2,230 981.6,230 982,230 982.4,230 982.8,230 983.2,230 983.5,230 983.9,287.9 984.3,296.9 984.7,300.5 985.1,303.2 985.5,306.7 985.9,309.8 986.3,313 986.6,316.1 987,318.6 987.4,321 987.8,322.8 988.2,324.1 988.6,325.9 989,327.6 989.3,328.5 989.7,328.3 990.1,328 990.5,327.8 990.9,320.4 991.3,318.8 991.7,317.2 992.1,316.1 992.4,315 992.8,313.9 993.2,305.8 993.6,304.7 994,303.1 994.4,301.4 994.8,300.5 995.1,293.3 995.5,304.8 995.9,338.3 996.3,338.6 996.7,338.7 997.1,338.7 997.5,338.7 997.9,340.1 998.2,341.8 998.6,342.5 999,342.9 999.4,341.6 999.8,337.3 1000.2,337.2 1000.6,334.8 1000.9,332.4 1001.3,330.1 1001.7,324.2 1002.1,330.2 1002.5,332 1002.9,333.8 1003.3,333.2 1003.7,332.6 1004,331.4 1004.4,330.3 1004.8,328.3 1005.2,328.3 1005.6,328.3 1006,328.3 1006.4,328.3 1006.7,328.3 1007.1,328.3 1007.5,328.3 1007.9,334.6 1008.3,339.9 1008.7,335.3 1009.1,329.7 1009.5,324.1 1009.8,347.7 1010.2,346.4 1010.6,344 1011,340.5 1011.4,285 1011.8,287.6 1012.2,289.3 1012.5,290.7 1012.9,290.5 1013.3,290.3 1013.7,290.1 1014.1,289.8 1014.5,300.1 1014.9,299.1 1015.3,290.3 1015.6,285 1016,297.1 1016.4,298 1016.8,298.9 1017.2,298.7 1017.6,297.3 1018,295.8 1018.3,292.2 1018.7,311.4 1019.1,286.5 1019.5,264.7 1019.9,286.2 1020.3,294.7 1020.7,308.7 1021.1,307.4 1021.4,306.3 1021.8,304.5 1022.2,301.7 1022.6,289.3 1023,285.6 1023.4,280 1023.8,309 1024.1,310.5 1024.5,310 1024.9,309.5 1025.3,309 1025.7,308.5 1026.1,308 1026.5,292.7 1026.9,288.1 1027.2,283 1027.6,277.9 1028,272.9 1028.4,269 1028.8,265.2 1029.2,248.8 1029.6,268.3 1029.9,271.7 1030.3,285.9 1030.7,288.3 1031.1,290.7 1031.5,300.5 1031.9,300.1 1032.3,295.8 1032.7,289.5 1033,277.4 1033.4,227.5 1033.8,227.5 1034.2,227.5 1034.6,227.5 1035,227.5 1035.4,227.5 1035.7,227.5 1036.1,227.5 1036.5,227.5 1036.9,266.9 1037.3,265.5 1037.7,263.8 1038.1,261.7 1038.5,255.9 1038.8,241.8 1039.2,187.5 1039.6,187.5 1040,187.5 1040,351.3 1039.6,351.3 1039.2,351.3 1038.8,351.3 1038.5,351.3 1038.1,351.3 1037.7,351.3 1037.3,351.3 1036.9,351.3 1036.5,351.3 1036.1,351.3 1035.7,351.3 1035.4,351.3 1035,351.3 1034.6,351.3 1034.2,351.3 1033.8,351.3 1033.4,319.8 1033,320.8 1032.7,346.7 1032.3,349.8 1031.9,352.8 1031.5,362.5 1031.1,356.1 1030.7,354.5 1030.3,347.5 1029.9,346.4 1029.6,349.5 1029.2,349.4 1028.8,343.2 1028.4,343.7 1028,351.7 1027.6,345.9 1027.2,346.4 1026.9,346.9 1026.5,348.2 1026.1,346.2 1025.7,347.8 1025.3,349.3 1024.9,350.9 1024.5,352.4 1024.1,354 1023.8,355.2 1023.4,356.4 1023,358.8 1022.6,376.7 1022.2,376.5 1021.8,349.3 1021.4,348.7 1021.1,348.2 1020.7,348.1 1020.3,348.4 1019.9,375.2 1019.5,374.4 1019.1,375.2 1018.7,376 1018.3,376.7 1018,377.5 1017.6,378.4 1017.2,379.1 1016.8,379.8 1016.4,380.6 1016,379 1015.6,383.4 1015.3,384.7 1014.9,386 1014.5,364.4 1014.1,390.8 1013.7,382.7 1013.3,376.7 1012.9,376.4 1012.5,376.1 1012.2,375.8 1011.8,361.7 1011.4,379.3 1011,380 1010.6,380.2 1010.2,380.4 1009.8,380.6 1009.5,380.7 1009.1,372.1 1008.7,381.5 1008.3,381.7 1007.9,371.1 1007.5,370.3 1007.1,369.5 1006.7,368.7 1006.4,367.9 1006,367.1 1005.6,361.9 1005.2,373.3 1004.8,363.5 1004.4,363.3 1004,363.1 1003.7,373.3 1003.3,373.3 1002.9,373.3 1002.5,373.3 1002.1,373.3 1001.7,373.3 1001.3,373.2 1000.9,351.1 1000.6,351 1000.2,351.1 999.8,352.8 999.4,370.1 999,370 998.6,369.8 998.2,369.7 997.9,356.3 997.5,356.3 997.1,356.4 996.7,356.5 996.3,356.6 995.9,356.7 995.5,356.8 995.1,356.9 994.8,357.3 994.4,362.3 994,362.5 993.6,362.4 993.2,362.4 992.8,362.3 992.4,366.8 992.1,370.2 991.7,370.1 991.3,370 990.9,375.5 990.5,375.7 990.1,375.8 989.7,375.7 989.3,375.6 989,354.5 988.6,369.8 988.2,369.5 987.8,369.2 987.4,369.2 987,370 986.6,370.8 986.3,377.8 985.9,392 985.5,392 985.1,392 984.7,392 984.3,392 983.9,392 983.5,392 983.2,392 982.8,387.8 982.4,377.2 982,376.4 981.6,375.6 981.2,374.9 980.8,374.1 980.5,367.5 980.1,366.9 979.7,366.7 979.3,366.6 978.9,366.5 978.5,359.2 978.1,359.1 977.7,353.5 977.4,353.5 977,358.7 976.6,370.3 976.2,364.9 975.8,371.7 975.4,371.7 975,371.7 974.7,371.7 974.3,366 973.9,366.2 973.5,351.4 973.1,364.7 972.7,366.1 972.3,367.5 971.9,368.9 971.6,370.2 971.2,371.4 970.8,377 970.4,378.3 970,383.3 969.6,379 969.2,364 968.9,363.6 968.5,363.2 968.1,362.8 967.7,362.3 967.3,362 966.9,361.8 966.5,338 966.1,337.9 965.8,338 965.4,338 965,338.1 964.6,339 964.2,339.8 963.8,341 963.4,343.9 963.1,345 962.7,346.2 962.3,347 961.9,371.5 961.5,371.7 961.1,371.5 960.7,371.4 960.3,369.9 960,365.5 959.6,365.5 959.2,371 958.8,391.7 958.4,391.7 958,391.7 957.6,391.7 957.3,391.7 956.9,391.7 956.5,391.7 956.1,391.7 955.7,391.7 955.3,391.7 954.9,391.7 954.5,391.4 954.2,377.2 953.8,377.2 953.4,377.2 953,384.4 952.6,384.2 952.2,384 951.8,390.5 951.5,390.4 951.1,390.3 950.7,390.2 950.3,390.1 949.9,390 949.5,353.9 949.1,348.2 948.7,348.1 948.4,347.9 948,348.4 947.6,358.7 947.2,359.5 946.8,360.6 946.4,360.8 946,361.1 945.7,373 945.3,374.4 944.9,367.7 944.5,368.1 944.1,368.6 943.7,369 943.3,376.7 942.9,376.5 942.6,369.3 942.2,369.2 941.8,355.1 941.4,375.6 941,375.4 940.6,361.1 940.2,360.8 939.9,360.5 939.5,360 939.1,359.6 938.7,359.2 938.3,358.8 937.9,358.6 937.5,358.4 937.1,364.2 936.8,367.5 936.4,367.6 936,367.8 935.6,367.9 935.2,367.9 934.8,379.5 934.4,381.3 934.1,383.2 933.7,385 933.3,395 932.9,393.3 932.5,368 932.1,363.3 931.7,362.3 931.3,361.3 931,360.3 930.6,358.3 930.2,355.8 929.8,346.5 929.4,329.1 929,327.8 928.6,326.5 928.3,325.2 927.9,356.7 927.5,356.6 927.1,357.6 926.7,357.6 926.3,365.1 925.9,365.3 925.5,365.7 925.2,387.5 924.8,386.3 924.4,371.7 924,365.1 923.6,362.3 923.2,360.4 922.8,324 922.5,325.2 922.1,335.1 921.7,335.7 921.3,337 920.9,338.3 920.5,365 920.1,365 919.7,365 919.4,365 919,347.1 918.6,348.4 918.2,349.5 917.8,365.5 917.4,366 917,366.6 916.7,367.1 916.3,367.6 915.9,363.1 915.5,364 915.1,365 914.7,365.9 914.3,366.9 913.9,367.8 913.6,366 913.2,366.7 912.8,367 912.4,357.6 912,355.1 911.6,355.5 911.2,355.8 910.9,356.2 910.5,376.4 910.1,376.7 909.7,376.6 909.3,376.5 908.9,376.4 908.5,376.3 908.1,376.2 907.8,376.1 907.4,376 907,374.6 906.6,374.5 906.2,375 905.8,392.2 905.4,407.5 905.1,407.5 904.7,407.5 904.3,407.5 903.9,407.5 903.5,407.5 903.1,407.5 902.7,407.5 902.3,407.5 902,374.1 901.6,372.9 901.2,374.5 900.8,397.6 900.4,384.2 900,378.8 899.6,370.7 899.3,371 898.9,371.2 898.5,371.4 898.1,371.7 897.7,343 897.3,370.1 896.9,370.3 896.5,370.5 896.2,352.1 895.8,372.9 895.4,373.6 895,386.7 894.6,386.7 894.2,386.7 893.8,386.7 893.5,386.7 893.1,374.7 892.7,386.3 892.3,352.1 891.9,352 891.5,394.2 891.1,394.2 890.7,394.2 890.4,394.2 890,394.2 889.6,394.2 889.2,394.2 888.8,394.2 888.4,364.6 888,358.1 887.7,358.1 887.3,358.2 886.9,358.2 886.5,352.7 886.1,352.5 885.7,357.5 885.3,360.6 884.9,398 884.6,357.6 884.2,396.8 883.8,397.4 883.4,398 883,398.7 882.6,399.4 882.2,400.1 881.9,406.7 881.5,396.4 881.1,376 880.7,363.8 880.3,364.1 879.9,364.4 879.5,364.7 879.1,365 878.8,366.9 878.4,367.1 878,367.5 877.6,367.9 877.2,368.1 876.8,368.3 876.4,368.5 876.1,368.7 875.7,373.3 875.3,373.3 874.9,374.7 874.5,374.9 874.1,375 873.7,374.9 873.3,374.8 873,373.7 872.6,373.6 872.2,373.6 871.8,366.2 871.4,366.8 871,367.3 870.6,373.2 870.3,385.9 869.9,389.3 869.5,391.5 869.1,394.2 868.7,398.7 868.3,403.2 867.9,407.7 867.5,412.3 867.2,420 866.8,411.3 866.4,401.5 866,396.7 865.6,392 865.2,387.2 864.8,384.4 864.5,383.5 864.1,386.4 863.7,385.6 863.3,385.2 862.9,374.8 862.5,375.9 862.1,377.1 861.7,378.2 861.4,379.3 861,380.9 860.6,382.1 860.2,408.3 859.8,372.2 859.4,376.7 859,420.8 858.7,374.8 858.3,373.1 857.9,371.4 857.5,387.4 857.1,387.1 856.7,386.8 856.3,404.2 855.9,404.2 855.6,404.2 855.2,404.2 854.8,382.9 854.4,382.8 854,382.7 853.6,388.3 853.2,382.7 852.9,382.7 852.5,387.5 852.1,390.2 851.7,394.2 851.3,394.2 850.9,394.2 850.5,394.2 850.1,394.2 849.8,394.2 849.4,394.2 849,394.2 848.6,394.2 848.2,369 847.8,369.1 847.4,367.2 847.1,363 846.7,363.1 846.3,363.3 845.9,363.5 845.5,410 845.1,410 844.7,410 844.3,410 844,410 843.6,410 843.2,410 842.8,410 842.4,410 842,410 841.6,377.3 841.3,395.9 840.9,393.4 840.5,390.9 840.1,385.7 839.7,385.6 839.3,386.2 838.9,386.8 838.5,383.7 838.2,384.1 837.8,392.3 837.4,393.3 837,365.2 836.6,355.9 836.2,382.7 835.8,374.4 835.5,374.4 835.1,374.4 834.7,364 834.3,388.1 833.9,387.8 833.5,387.5 833.1,387.9 832.7,389 832.4,390.1 832,391.2 831.6,384.1 831.2,391.8 830.8,397.5 830.4,370.2 830,369.8 829.7,369.3 829.3,368.8 828.9,368.9 828.5,369.2 828.1,357.3 827.7,387.3 827.3,390.8 826.9,393.7 826.6,396.5 826.2,399.2 825.8,401.9 825.4,381 825,382.5 824.6,384.1 824.2,385.7 823.9,388 823.5,430 823.1,409 822.7,406 822.3,403 821.9,400 821.5,389.8 821.1,393.8 820.8,395.5 820.4,393.9 820,386.3 819.6,385.4 819.2,384.4 818.8,394.3 818.4,395.1 818.1,380.6 817.7,382.2 817.3,383.8 816.9,390.1 816.5,391.7 816.1,393.8 815.7,396.1 815.3,399.3 815,406.3 814.6,408.8 814.2,411.2 813.8,413.7 813.4,416.7 813,419.2 812.6,422.3 812.3,425.4 811.9,428.5 811.5,433.3 811.1,430.8 810.7,429.3 810.3,427.7 809.9,426.5 809.5,425.9 809.2,425.4 808.8,424.9 808.4,402.7 808,423.1 807.6,422.6 807.2,421.8 806.8,422.9 806.5,424.1 806.1,425.2 805.7,426.3 805.3,427.4 804.9,431.7 804.5,426.8 804.1,422 803.7,400.9 803.4,400.1 803,399.4 802.6,398.7 802.2,398.1 801.8,397.4 801.4,396.9 801,396.3 800.7,395.8 800.3,413 799.9,412.3 799.5,412.1 799.1,411.9 798.7,411.7 798.3,411.5 797.9,411.4 797.6,411.4 797.2,399.9 796.8,400.2 796.4,400.9 796,401.8 795.6,402.7 795.2,409.5 794.9,410.5 794.5,411.6 794.1,412.6 793.7,413.7 793.3,425 792.9,414.4 792.5,406.7 792.2,407 791.8,407.2 791.4,407.4 791,407.8 790.6,408.3 790.2,408.8 789.8,409.7 789.4,415.6 789.1,415.1 788.7,415.8 788.3,416.9 787.9,418.5 787.5,423.5 787.1,424.5 786.7,425.6 786.4,426.1 786,426.7 785.6,427.3 785.2,427.8 784.8,428.4 784.4,425.7 784,429.7 783.6,430.9 783.3,432.1 782.9,433.3 782.5,434.5 782.1,435.7 781.7,438.3 781.3,437.1 780.9,436.5 780.6,436 780.2,435.4 779.8,434.8 779.4,434.3 779,433.7 778.6,433.6 778.2,433.4 777.8,434.2 777.5,434.9 777.1,435.7 776.7,436.4 776.3,431 775.9,438.3 775.5,438.3 775.1,438.3 774.8,438.3 774.4,438.3 774,438.3 773.6,426.3 773.2,425.8 772.8,423.6 772.4,423.3 772,437 771.7,438.6 771.3,440.3 770.9,442 770.5,449.2 770.1,442.7 769.7,439.9 769.3,441 769,438.3 768.6,435.7 768.2,433.1 767.8,430.6 767.4,428 767,425.1 766.6,422.8 766.2,422.2 765.9,421.6 765.5,421 765.1,420.4 764.7,419.9 764.3,419.3 763.9,401.5 763.5,402.2 763.2,402 762.8,412.2 762.4,412.4 762,412.6 761.6,412.8 761.2,413 760.8,413.3 760.4,413.6 760.1,421.7 759.7,401.9 759.3,401.8 758.9,401.6 758.5,413.1 758.1,417.4 757.7,416.6 757.4,415.7 757,414.8 756.6,413.9 756.2,414.9 755.8,415.9 755.4,417 755,418 754.6,419 754.3,420.8 753.9,409.1 753.5,409.4 753.1,409.6 752.7,409.8 752.3,410.1 751.9,410.3 751.6,414.5 751.2,416.2 750.8,417.2 750.4,418.2 750,419.1 749.6,420.1 749.2,421.1 748.8,422 748.5,423.3 748.1,424.1 747.7,423.8 747.3,424.7 746.9,425.7 746.5,426.7 746.1,427.7 745.8,428.6 745.4,429 745,429.9 744.6,430.4 744.2,430.9 743.8,431.5 743.4,422.1 743,422 742.7,422.2 742.3,421.9 741.9,421.9 741.5,421.8 741.1,421.8 740.7,421.5 740.3,442.5 740,435.9 739.6,433 739.2,430 738.8,427.1 738.4,424.1 738,417 737.6,415.8 737.2,414.5 736.9,413.3 736.5,412.1 736.1,410.9 735.7,409.6 735.3,409.6 734.9,414.5 734.5,414.8 734.2,415.1 733.8,415.4 733.4,415.7 733,407.3 732.6,413.4 732.2,416 731.8,416.5 731.4,417.1 731.1,418.1 730.7,419.1 730.3,420.2 729.9,402.2 729.5,402.6 729.1,392.7 728.7,426.9 728.4,430 728,426.8 727.6,425.5 727.2,424.3 726.8,423 726.4,421.8 726,388.1 725.6,389.1 725.3,390.2 724.9,408.2 724.5,408.7 724.1,409.2 723.7,409.8 723.3,410.4 722.9,410.9 722.6,411.5 722.2,412 721.8,412.5 721.4,415.2 721,417.9 720.6,416.9 720.2,413.6 719.8,415.1 719.5,415.9 719.1,417.5 718.7,419 718.3,420.6 717.9,422 717.5,422.3 717.1,422.5 716.8,422.8 716.4,423.1 716,423.3 715.6,425.7 715.2,426.1 714.8,426.5 714.4,426.6 714,426.7 713.7,423.8 713.3,423.6 712.9,423.4 712.5,423.1 712.1,423.2 711.7,440.8 711.3,440.7 711,440.2 710.6,440 710.2,439.8 709.8,439.6 709.4,439.4 709,435.5 708.6,435.3 708.2,435 707.9,429.7 707.5,433.3 707.1,431.7 706.7,438.8 706.3,438.7 705.9,438.6 705.5,418.4 705.2,417.7 704.8,417.2 704.4,416.8 704,433.8 703.6,434.4 703.2,435.1 702.8,431.3 702.4,432 702.1,434.5 701.7,428.8 701.3,424.1 700.9,424.7 700.5,425.4 700.1,450 699.7,426.4 699.4,435.2 699,434.5 698.6,425.9 698.2,425.8 697.8,425.7 697.4,425.6 697,425.6 696.6,425.7 696.3,426.4 695.9,436.7 695.5,436.7 695.1,437.1 694.7,437.5 694.3,437.9 693.9,438.4 693.6,438.7 693.2,439.7 692.8,441.3 692.4,443 692,445 691.6,443.7 691.2,431.6 690.8,435.3 690.5,436 690.1,436.8 689.7,449.9 689.3,451.4 688.9,452.9 688.5,463.3 688.1,458.2 687.8,455.7 687.4,453.2 687,450.7 686.6,448.1 686.2,445 685.8,442.6 685.4,440.2 685,437.7 684.7,437.6 684.3,437.8 683.9,438 683.5,438.2 683.1,438.4 682.7,434.7 682.3,435 682,435.3 681.6,435.8 681.2,436.5 680.8,437.5 680.4,435.5 680,446.5 679.6,441.9 679.2,450 678.9,449.8 678.5,440.5 678.1,440.2 677.7,439.8 677.3,439.5 676.9,439.2 676.5,438.9 676.2,438.9 675.8,447.5 675.4,440.4 675,440.2 674.6,440.1 674.2,436.7 673.8,436.7 673.4,436.7 673.1,436.6 672.7,436.5 672.3,436.5 671.9,436.4 671.5,442.4 671.1,442.2 670.7,442 670.4,441.8 670,441.7 669.6,438 669.2,441.4 668.8,438.7 668.4,438.5 668,434.7 667.6,435.1 667.3,435.5 666.9,436.1 666.5,444.8 666.1,445.8 665.7,446.7 665.3,447.6 664.9,450.8 664.6,447.9 664.2,444.4 663.8,444.1 663.4,443.8 663,443.5 662.6,443.3 662.2,443 661.8,442.7 661.5,440.3 661.1,441 660.7,441.7 660.3,442.4 659.9,452.6 659.5,454.1 659.1,457.5 658.8,454.5 658.4,453.6 658,449.5 657.6,448.7 657.2,447.9 656.8,447.1 656.4,447 656,450.8 655.7,451.3 655.3,451.9 654.9,450.1 654.5,445.1 654.1,446.8 653.7,441 653.3,455.8 653,440.9 652.6,440.6 652.2,444 651.8,443.4 651.4,442.9 651,442.4 650.6,440.4 650.2,440 649.9,439.9 649.5,440.6 649.1,441.3 648.7,441.9 648.3,449.5 647.9,450.2 647.5,451.1 647.2,450.9 646.8,453.6 646.4,454.6 646,455.7 645.6,456.7 645.2,457.7 644.8,458.3 644.4,442.4 644.1,442.2 643.7,442 643.3,441.8 642.9,441.7 642.5,441.5 642.1,446.4 641.7,446.7 641.4,442.9 641,453.5 640.6,454.1 640.2,454.9 639.8,455.1 639.4,455.4 639,455.8 638.6,456.1 638.3,456.5 637.9,453.4 637.5,442.9 637.1,453.6 636.7,460 636.3,453.7 635.9,453.4 635.6,453.2 635.2,453.1 634.8,450 634.4,455.5 634,445.8 633.6,446 633.2,451.5 632.8,450.9 632.5,457.1 632.1,446.4 631.7,447.1 631.3,447.7 630.9,448.3 630.5,453.9 630.1,454.1 629.8,453.9 629.4,453.8 629,453.7 628.6,453.5 628.2,453.4 627.8,453.3 627.4,453.1 627,450.8 626.7,450.3 626.3,450.1 625.9,449.9 625.5,449.7 625.1,449.4 624.7,449.6 624.3,450 624,466.7 623.6,457.8 623.2,460 622.8,480.8 622.4,470 622,467.5 621.6,465.2 621.2,463.1 620.9,451.9 620.5,450.7 620.1,449.5 619.7,452.9 619.3,451.6 618.9,439.4 618.5,439.8 618.2,440.1 617.8,440.5 617.4,440.9 617,441.3 616.6,441.8 616.2,442.9 615.8,450.4 615.4,446.2 615.1,453.9 614.7,454.9 614.3,456.2 613.9,456.9 613.5,457.9 613.1,458.9 612.7,451.3 612.4,451 612,451.7 611.6,452.3 611.2,453 610.8,466.7 610.4,454 610,454.5 609.6,454.8 609.3,455.2 608.9,461 608.5,459.8 608.1,459.8 607.7,459.8 607.3,460 606.9,460.3 606.6,460.7 606.2,461 605.8,461.3 605.4,464.4 605,464.7 604.6,464.9 604.2,465.3 603.8,465.5 603.5,465.8 603.1,466.1 602.7,466.4 602.3,466.7 601.9,462.7 601.5,462.9 601.1,463 600.8,463.2 600.4,463.6 600,468.6 599.6,469.3 599.2,468.8 598.8,469.4 598.4,474.2 598,474.1 597.7,473.9 597.3,460.8 596.9,468.7 596.5,460.9 596.1,460.8 595.7,460.7 595.3,460.6 595,460.4 594.6,460.3 594.2,460.1 593.8,460 593.4,462.2 593,459.8 592.6,467.5 592.2,467.1 591.9,466.7 591.5,466.3 591.1,465.9 590.7,465.5 590.3,465 589.9,464.7 589.5,464.5 589.2,464.4 588.8,464.2 588.4,464 588,463.9 587.6,463.7 587.2,463.5 586.8,462.6 586.4,462.5 586.1,458.1 585.7,463.8 585.3,464 584.9,464.2 584.5,462.2 584.1,454.4 583.7,453.7 583.4,452.9 583,452.2 582.6,451.4 582.2,450.7 581.8,449.9 581.4,454.6 581,454.4 580.6,454.2 580.3,469 579.9,469.2 579.5,466.1 579.1,465.4 578.7,464.9 578.3,464.3 577.9,463.7 577.6,463.2 577.2,461 576.8,460.2 576.4,459.4 576,458.5 575.6,457.8 575.2,457.1 574.8,456.7 574.5,456.8 574.1,457 573.7,458.3 573.3,458.3 572.9,453.8 572.5,454.4 572.1,455 571.8,455.6 571.4,456.4 571,457.3 570.6,458.1 570.2,459.2 569.8,459.9 569.4,460.3 569,460.7 568.7,461.2 568.3,463.1 567.9,463.4 567.5,463.8 567.1,470.3 566.7,471 566.3,465.8 566,472.5 565.6,472.3 565.2,466.1 564.8,465.9 564.4,465.8 564,465.6 563.6,465.4 563.2,468.7 562.9,468.4 562.5,468.1 562.1,467.9 561.7,467.6 561.3,467.4 560.9,467.2 560.5,467 560.2,466.8 559.8,462.4 559.4,461.3 559,461.4 558.6,461.5 558.2,461.6 557.8,461.7 557.4,464.6 557.1,466.5 556.7,466.3 556.3,463.8 555.9,466.3 555.5,466.1 555.1,465.9 554.7,465.7 554.4,465.5 554,465.3 553.6,465.1 553.2,465.2 552.8,466 552.4,466.9 552,467.7 551.6,468.6 551.3,469.4 550.9,470.3 550.5,465.6 550.1,472.5 549.7,466 549.3,465.9 548.9,465.8 548.6,465.7 548.2,466.8 547.8,467 547.4,466.5 547,466.3 546.6,466.6 546.2,466.8 545.8,467.1 545.5,467.3 545.1,468.2 544.7,468.8 544.3,469.6 543.9,470.3 543.5,471.1 543.1,471.8 542.8,472.7 542.4,473.5 542,474.2 541.6,475 541.2,475 540.8,475 540.4,475 540,475 539.7,475 539.3,475 538.9,475 538.5,475 538.1,474.8 537.7,474 537.3,471.2 537,469.5 536.6,468.9 536.2,462.8 535.8,469.8 535.4,458.3 535,457.1 534.6,456.6 534.2,471.4 533.9,467 533.5,467.1 533.1,467.2 532.7,467.3 532.3,467.4 531.9,474.7 531.5,475 531.2,468.2 530.8,451.7 530.4,452.8 530,451.8 529.6,451.3 529.2,449.7 528.8,448.4 528.4,447 528.1,445.1 527.7,439.7 527.3,440 526.9,440.8 526.5,441.6 526.1,442.4 525.7,443.5 525.4,445.4 525,447.4 524.6,451.6 524.2,453 523.8,453.5 523.4,454 523,454.4 522.6,454.9 522.3,457.6 521.9,457.7 521.5,458.1 521.1,458.5 520.7,458.9 520.3,459.3 519.9,459.8 519.6,460.2 519.2,460.8 518.8,461.2 518.4,461.6 518,462.1 517.6,462.5 517.2,463.1 516.8,463.6 516.5,464.2 516.1,464.9 515.7,465.6 515.3,466.3 514.9,467.1 514.5,468 514.1,468.9 513.8,468.2 513.4,468.8 513,469.5 512.6,470.1 512.2,471 511.8,478.3 511.4,478.2 511,474.8 510.7,471.7 510.3,471.8 509.9,471.9 509.5,472 509.1,472.1 508.7,472.2 508.3,472.4 508,473.8 507.6,473.8 507.2,473.9 506.8,473.9 506.4,476.6 506,476.8 505.6,476.7 505.2,476.6 504.9,476.6 504.5,476.5 504.1,476.4 503.7,476.3 503.3,475.3 502.9,475.2 502.5,475.1 502.2,475.2 501.8,477.2 501.4,476.4 501,476.7 500.6,476.9 500.2,476.8 499.8,477 499.4,479 499.1,479.2 498.7,477.1 498.3,476.8 497.9,476.5 497.5,476.3 497.1,474.5 496.7,474.2 496.4,474 496,473.2 495.6,473.1 495.2,473 494.8,472.8 494.4,472.7 494,472.6 493.6,472.4 493.3,472.3 492.9,468.1 492.5,475.2 492.1,475 491.7,468.9 491.3,472.1 490.9,471.9 490.6,471.8 490.2,469.5 489.8,469.4 489.4,474.3 489,474.4 488.6,474.5 488.2,474.6 487.8,474.7 487.5,474.8 487.1,474.9 486.7,475 486.3,474.9 485.9,474.8 485.5,474.7 485.1,474.6 484.8,474.5 484.4,474.4 484,473.1 483.6,467 483.2,467.1 482.8,467.3 482.4,467.5 482,467.7 481.7,467.9 481.3,468.1 480.9,478 480.5,466.3 480.1,466.3 479.7,466.4 479.3,471.3 479,471 478.6,470.7 478.2,470.6 477.8,470.8 477.4,474.4 477,474.5 476.6,474.6 476.2,468.4 475.9,468.8 475.5,469.1 475.1,469.4 474.7,469.7 474.3,470 473.9,470.2 473.5,470.2 473.2,470.2 472.8,469.7 472.4,469.7 472,476.5 471.6,476.7 471.2,476.5 470.8,476.4 470.4,472.1 470.1,474.1 469.7,474 469.3,473.8 468.9,475.9 468.5,475.9 468.1,476 467.7,476 467.4,476.1 467,476.2 466.6,476.2 466.2,476.3 465.8,476.3 465.4,476.4 465,476.5 464.6,476.6 464.3,476.6 463.9,476.7 463.5,476.8 463.1,476.9 462.7,477 462.3,477 461.9,475.8 461.6,475.5 461.2,467.7 460.8,467.6 460.4,467.6 460,467.6 459.6,467.6 459.2,467.6 458.8,467.6 458.5,466.9 458.1,471.6 457.7,471.9 457.3,471.8 456.9,471.7 456.5,471.7 456.1,471.5 455.8,467.8 455.4,468.1 455,468.3 454.6,468.2 454.2,468.2 453.8,468.2 453.4,468.1 453,471.4 452.7,471.6 452.3,470.7 451.9,470.8 451.5,471 451.1,470.6 450.7,470.9 450.3,471.2 450,471.4 449.6,471.6 449.2,471.8 448.8,472 448.4,476.7 448,476.7 447.6,476.8 447.2,476.9 446.9,477 446.5,477.1 446.1,477.2 445.7,477.3 445.3,477.4 444.9,477.5 444.5,477.6 444.2,477.7 443.8,477.8 443.4,477.9 443,474.9 442.6,478.1 442.2,478.2 441.8,478.3 441.4,478.2 441.1,474.6 440.7,474.3 440.3,474.2 439.9,473.8 439.5,473.5 439.1,473.1 438.7,472.8 438.4,467.9 438,475.5 437.6,476 437.2,476.1 436.8,476.2 436.4,476.3 436,476.4 435.6,476.5 435.3,476.6 434.9,476.7 434.5,469.3 434.1,469.2 433.7,471.1 433.3,471 432.9,470.8 432.6,470.3 432.2,470.1 431.8,469.9 431.4,469.7 431,469.3 430.6,469 430.2,468.7 429.8,468.3 429.5,467.7 429.1,466.6 428.7,466.4 428.3,466.3 427.9,466.6 427.5,466.9 427.1,469.4 426.8,469.8 426.4,470.2 426,470.6 425.6,468.7 425.2,469.7 424.8,469.9 424.4,470 424,470.3 423.7,470.5 423.3,470.7 422.9,470.9 422.5,471.1 422.1,471.4 421.7,475.8 421.3,475.9 421,476 420.6,476.1 420.2,476.2 419.8,476.3 419.4,476.3 419,476.4 418.6,476.5 418.2,476.7 417.9,477.4 417.5,478.2 417.1,478.9 416.7,478.8 416.3,479.5 415.9,481.3 415.5,479.4 415.2,478.2 414.8,477 414.4,475.8 414,475.1 413.6,472.6 413.2,472.3 412.8,472 412.4,471.7 412.1,471.4 411.7,471.1 411.3,471.1 410.9,473.5 410.5,473.6 410.1,473.7 409.7,473.8 409.4,468.3 409,468.4 408.6,468.6 408.2,472.8 407.8,473.1 407.4,473.4 407,473.7 406.6,474 406.3,474.2 405.9,474.5 405.5,474.8 405.1,476.7 404.7,476.6 404.3,476.5 403.9,476.4 403.6,476.3 403.2,476.2 402.8,476.1 402.4,476 402,475.9 401.6,475.8 401.2,475.7 400.8,475.6 400.5,470.4 400.1,475.4 399.7,475.3 399.3,475.2 398.9,475.1 398.5,475 398.1,475 397.8,475.1 397.4,475.2 397,475.3 396.6,475.4 396.2,475.1 395.8,475.2 395.4,475.2 395,474.8 394.7,474.2 394.3,474.5 393.9,476.4 393.5,476.7 393.1,471.6 392.7,477.5 392.3,475.5 392,478.1 391.6,478.3 391.2,478.1 390.8,467.3 390.4,477.5 390,474.3 389.6,474.1 389.2,473.9 388.9,473.8 388.5,472.5 388.1,466.5 387.7,466.5 387.3,466.5 386.9,466.5 386.5,468.9 386.2,468.8 385.8,471.2 385.4,470.9 385,470.7 384.6,470.7 384.2,470.6 383.8,473 383.4,472.9 383.1,472.8 382.7,472.8 382.3,471.3 381.9,471.3 381.5,471.3 381.1,471.4 380.7,471.5 380.4,472.4 380,472.5 379.6,472.6 379.2,469.8 378.8,471 378.4,472.1 378,473.4 377.6,471.3 377.3,473.3 376.9,473.5 376.5,471.9 376.1,472.1 375.7,472.2 375.3,472.4 374.9,472.6 374.6,472.7 374.2,473.4 373.8,473.5 373.4,473.7 373,473.8 372.6,470.7 372.2,476 371.8,477.5 371.5,477.4 371.1,477.2 370.7,475.9 370.3,475.7 369.9,475.5 369.5,470.4 369.1,470.1 368.8,469.8 368.4,469.5 368,469.3 367.6,476 367.2,476.1 366.8,476.2 366.4,476.3 366,476.4 365.7,476.5 365.3,476.6 364.9,476.7 364.5,476.8 364.1,476.9 363.7,477 363.3,477.1 363,470.9 362.6,477.3 362.2,477.4 361.8,477.5 361.4,477.4 361,477.3 360.6,477.2 360.2,477.1 359.9,477 359.5,477 359.1,476.9 358.7,476.8 358.3,476.7 357.9,474.9 357.5,474.4 357.2,473.9 356.8,473.4 356.4,472.9 356,472.3 355.6,472.5 355.2,472 354.8,466.6 354.4,466.3 354.1,466 353.7,465.8 353.3,465.5 352.9,465 352.5,464.4 352.1,463.9 351.7,463.3 351.4,464.8 351,465 350.6,465.1 350.2,465.3 349.8,469.6 349.4,468 349,465.3 348.6,458.7 348.3,475 347.9,475 347.5,475 347.1,475 346.7,475 346.3,475 345.9,475 345.6,475 345.2,475 344.8,462.1 344.4,461.7 344,461.2 343.6,466.3 343.2,465.4 342.8,464.6 342.5,463.8 342.1,463.2 341.7,463.8 341.3,464 340.9,464.3 340.5,464.5 340.1,463.6 339.8,463.9 339.4,464 339,462 338.6,465.8 338.2,466 337.8,466.3 337.4,466.5 337,466.7 336.7,466.9 336.3,467 335.9,465 335.5,465.1 335.1,465.2 334.7,465.7 334.3,466.5 334,467.2 333.6,472.2 333.2,479.7 332.8,472.3 332.4,471.7 332,471.1 331.6,470.5 331.2,469.8 330.9,464.7 330.5,464.1 330.1,463.6 329.7,463.1 329.3,472.9 328.9,467.5 328.5,461.7 328.2,461.4 327.8,460.8 327.4,460.3 327,460.5 326.6,460.1 326.2,460 325.8,459.9 325.4,459.8 325.1,457.5 324.7,461 324.3,461 323.9,461 323.5,461 323.1,461.1 322.7,461.3 322.4,461.4 322,465.4 321.6,465.1 321.2,466.8 320.8,466.9 320.4,467 320,467.1 319.6,464.5 319.3,464.8 318.9,465.1 318.5,465.4 318.1,468 317.7,468.8 317.3,469.7 316.9,470.5 316.6,471.4 316.2,472.3 315.8,471.5 315.4,470.7 315,475 314.6,474.9 314.2,474.8 313.8,474.7 313.5,474.6 313.1,474.5 312.7,474.4 312.3,474.3 311.9,474.2 311.5,474.2 311.1,474 310.8,473.9 310.4,466.8 310,473.7 309.6,473.6 309.2,473.6 308.8,473.5 308.4,473.4 308.1,473.3 307.7,473.2 307.3,473.1 306.9,473 306.5,472.9 306.1,472.8 305.7,472.7 305.3,472.6 305,472.5 304.6,457.4 304.2,457.4 303.8,457.3 303.4,457.2 303,464.3 302.6,464 302.3,463.7 301.9,463.4 301.5,463.3 301.1,463.1 300.7,458.2 300.3,458.3 299.9,458.4 299.5,458.5 299.2,458.6 298.8,458.7 298.4,458.8 298,459.3 297.6,459.8 297.2,463.6 296.8,464.1 296.5,464.7 296.1,465.2 295.7,464 295.3,464.5 294.9,471.7 294.5,471.7 294.1,471.7 293.7,471.7 293.4,471.7 293,471.7 292.6,471.7 292.2,465.3 291.8,465.3 291.4,465.5 291,470.8 290.7,471 290.3,471.3 289.9,471.6 289.5,470.9 289.1,471.2 288.7,473.9 288.3,474.2 287.9,474.1 287.6,474 287.2,473.9 286.8,473.8 286.4,473.7 286,473.6 285.6,473.5 285.2,473.4 284.9,473.4 284.5,473.5 284.1,473.6 283.7,473.7 283.3,473.8 282.9,468.4 282.5,468.7 282.1,471.2 281.8,474.1 281.4,468.2 281,468.5 280.6,468.8 280.2,469.1 279.8,469.4 279.4,469.6 279.1,469.9 278.7,470.2 278.3,473 277.9,473.3 277.5,473.7 277.1,474 276.7,474.3 276.3,474.6 276,476.7 275.6,477 275.2,479.2 274.8,479.1 274.4,479 274,478.9 273.6,478.8 273.3,478.7 272.9,478.6 272.5,478.5 272.1,478.4 271.7,478.3 271.3,472.3 270.9,472 270.5,471.8 270.2,471.2 269.8,471 269.4,471.7 269,470.7 268.6,470.7 268.2,470.7 267.8,470.7 267.5,476.9 267.1,478.9 266.7,472.1 266.3,472.3 265.9,480.3 265.5,480.1 265.1,472.3 264.7,477.9 264.4,477.6 264,477.3 263.6,477 263.2,476.7 262.8,476.4 262.4,476.1 262,475.8 261.7,475.1 261.3,471.4 260.9,470.3 260.5,470.3 260.1,470.3 259.7,470.3 259.3,470.3 258.9,470.3 258.6,470.2 258.2,470.3 257.8,472.8 257.4,472.2 257,471.2 256.6,475.4 256.2,475.5 255.9,475.6 255.5,471.2 255.1,471.2 254.7,471.3 254.3,477.1 253.9,481.4 253.5,481.6 253.1,481.7 252.8,481.5 252.4,481.4 252,472.4 251.6,481.2 251.2,481.1 250.8,481 250.4,480.9 250.1,480.8 249.7,480.7 249.3,480.7 248.9,480.6 248.5,480.5 248.1,480.4 247.7,480.3 247.3,480.2 247,480.1 246.6,480 246.2,475 245.8,475 245.4,475 245,472.6 244.6,478.6 244.3,478.4 243.9,478.3 243.5,478.4 243.1,476 242.7,476.2 242.3,476.4 241.9,476.5 241.5,470.8 241.2,470.6 240.8,479.6 240.4,479.9 240,481.7 239.6,481.6 239.2,481.5 238.8,481.4 238.5,481.3 238.1,481.2 237.7,481.1 237.3,481 236.9,480.9 236.5,480.8 236.1,480.7 235.7,480.6 235.4,469.8 235,480.4 234.6,480.3 234.2,480.2 233.8,480.1 233.4,480 233,476.4 232.7,476 232.3,475.5 231.9,475.1 231.5,468.3 231.1,474.5 230.7,469.1 230.3,469.1 229.9,468.4 229.6,472 229.2,475.2 228.8,475.3 228.4,475.4 228,472.4 227.6,475.6 227.2,475.7 226.9,475.8 226.5,475.8 226.1,475.7 225.7,475.6 225.3,475.5 224.9,475.4 224.5,475.3 224.1,475.2 223.8,475.1 223.4,474.9 223,469 222.6,467.8 222.2,467.7 221.8,467.7 221.4,467.7 221.1,467.7 220.7,467.6 220.3,476.5 219.9,476.7 219.5,476.4 219.1,475.8 218.7,475.6 218.3,475.5 218,475.3 217.6,475.1 217.2,472.8 216.8,473.6 216.4,473.7 216,474 215.6,474.2 215.3,474.5 214.9,474.8 214.5,475.1 214.1,475.3 213.7,477.2 213.3,477.5 212.9,477.3 212.5,476.1 212.2,469.9 211.8,470 211.4,470.1 211,470.1 210.6,470.1 210.2,473.7 209.8,473.7 209.5,476 209.1,476.1 208.7,476.2 208.3,476.3 207.9,474.1 207.5,476.5 207.1,476.6 206.7,476.7 206.4,476.6 206,476.5 205.6,476.4 205.2,476.3 204.8,476.2 204.4,476.1 204,476 203.7,473.2 203.3,473.1 202.9,475 202.5,475.1 202.1,475.3 201.7,475.4 201.3,475.6 200.9,475.7 200.6,477.2 200.2,477.5 199.8,477.4 199.4,477.3 199,477.3 198.6,477.2 198.2,477.1 197.9,477 197.5,476.9 197.1,476.8 196.7,476.7 196.3,476.6 195.9,476.5 195.5,476.4 195.1,476.3 194.8,476.2 194.4,476.1 194,476 193.6,475.9 193.2,475.8 192.8,471.8 192.4,471.7 192.1,471.5 191.7,471.4 191.3,471.2 190.9,468.3 190.5,468.2 190.1,468.1 189.7,468.1 189.3,474.3 189,474.4 188.6,474.5 188.2,474.6 187.8,474.7 187.4,474.8 187,474.9 186.6,475 186.3,474.9 185.9,474.8 185.5,474.7 185.1,474.6 184.7,474.5 184.3,474.4 183.9,474.3 183.5,474.2 183.2,474.2 182.8,474.3 182.4,474.4 182,474.5 181.6,474.6 181.2,474.6 180.8,474.8 180.5,474.9 180.1,475 179.7,474.9 179.3,474.8 178.9,474.7 178.5,474.6 178.1,474.5 177.7,474.4 177.4,474.3 177,472.1 176.6,472.1 176.2,472.2 175.8,472.3 175.4,472.3 175,470.4 174.7,475.1 174.3,475.3 173.9,469.8 173.5,470.7 173.1,470.6 172.7,470.5 172.3,470.5 171.9,470.5 171.6,470.5 171.2,470.5 170.8,474 170.4,474.1 170,479.2 169.6,473.3 169.2,472.5 168.9,471.6 168.5,470.7 168.1,470.4 167.7,470.3 167.3,475.3 166.9,475.4 166.5,475.5 166.1,475.5 165.8,475.6 165.4,475.7 165,475.8 164.6,475.6 164.2,471 163.8,470.9 163.4,471.7 163.1,474.8 162.7,474.6 162.3,474.4 161.9,474.1 161.5,474.2 161.1,474.7 160.7,475.2 160.3,463.9 160,464.2 159.6,464.4 159.2,477.5 158.8,464.8 158.4,473.3 158,472.6 157.6,472 157.3,471.4 156.9,468.7 156.5,469.1 156.1,469.8 155.7,470.4 155.3,470.3 154.9,472.8 154.5,473.1 154.2,473.4 153.8,473.7 153.4,474 153,474.1 152.6,474.3 152.2,470.5 151.8,470.6 151.5,470.8 151.1,470.9 150.7,471 150.3,471.6 149.9,471.7 149.5,471.8 149.1,472 148.7,472.4 148.4,472.5 148,472.7 147.6,472.8 147.2,473 146.8,477.5 146.4,477.6 146,477.7 145.7,477.8 145.3,477.9 144.9,477.9 144.5,478 144.1,478.1 143.7,478.2 143.3,478.3 142.9,478.2 142.6,478.1 142.2,478 141.8,477.9 141.4,477.8 141,477.8 140.6,473.5 140.2,473.6 139.9,473.8 139.5,474 139.1,477.4 138.7,474.9 138.3,475.1 137.9,475.4 137.5,475.6 137.1,477.2 136.8,477.4 136.4,477.9 136,479 135.6,479.7 135.2,480.5 134.8,481.1 134.4,482.2 134.1,483.3 133.7,482.3 133.3,481.9 132.9,481.5 132.5,481.2 132.1,480.8 131.7,477.7 131.3,476.3 131,476.1 130.6,475.9 130.2,475.6 129.8,477.5 129.4,477.6 129,475.6 128.6,475.6 128.3,479.6 127.9,479.7 127.5,475.4 127.1,475.3 126.7,475.2 126.3,476.7 125.9,476.9 125.5,477.1 125.2,477.2 124.8,479.9 124.4,482.3 124,482.5 123.6,479.4 123.2,478.7 122.8,477.5 122.5,477 122.1,477.3 121.7,478.6 121.3,478.7 120.9,478.9 120.5,479 120.1,478.8 119.7,478.9 119.4,479.1 119,478.1 118.6,476.4 118.2,476.5 117.8,476.6 117.4,476.6 117,476.7 116.7,478.5 116.3,476.7 115.9,482.5 115.5,482.2 115.1,476.6 114.7,476.5 114.3,476.4 113.9,476.3 113.6,480.7 113.2,480.4 112.8,480.1 112.4,479.7 112,479.4 111.6,479.2 111.2,478.3 110.9,478.3 110.5,478.2 110.1,478.1 109.7,478.2 109.3,478.6 108.9,478.5 108.5,477.1 108.1,477.1 107.8,477.1 107.4,477.1 107,477.2 106.6,476.3 106.2,476.3 105.8,476.3 105.4,476.3 105.1,476.3 104.7,476.3 104.3,476.3 103.9,476.3 103.5,479.6 103.1,479.7 102.7,479.9 102.3,480.1 102,480.3 101.6,480.4 101.2,480.3 100.8,477 100.4,477 100,476.9 99.6,476.9 99.3,476.9 98.9,476.8 98.5,478.4 98.1,478.5 97.7,478.7 97.3,478.9 96.9,479.1 96.5,479.3 96.2,479.5 95.8,479.7 95.4,482.2 95,482.5 94.6,482.2 94.2,477.5 93.8,477.4 93.5,480.2 93.1,481 92.7,480.7 92.3,480.4 91.9,480.1 91.5,480.2 91.1,476.9 90.7,480.9 90.4,481.5 90,482.1 89.6,482.7 89.2,483.8 88.8,483.8 88.4,483.8 88,477.7 87.7,477.6 87.3,477.5 86.9,477.4 86.5,477.2 86.1,477 85.7,480.5 85.3,480.1 84.9,479.7 84.6,479.4 84.2,479 83.8,479.2 83.4,478.6 83,478.4 82.6,478.3 82.2,476.2 81.9,476.1 81.5,474.7 81.1,476 80.7,477.2 80.3,477.1 79.9,477 79.5,477.1 79.1,477.2 78.8,475 78.4,474.9 78,474.9 77.6,474.8 77.2,474.7 76.8,474.7 76.4,474.6 76.1,474.6 75.7,474.6 75.3,481.1 74.9,481.6 74.5,481.9 74.1,482.3 73.7,482.6 73.3,483.3 73,474.8 72.6,474.4 72.2,481.6 71.8,481 71.4,480.4 71,479.9 70.6,479.3 70.3,478.7 69.9,478.3 69.5,477.8 69.1,471.8 68.7,471.7 68.3,471.6 67.9,471.3 67.5,474.4 67.2,473.6 66.8,472.8 66.4,471.9 66,468.5Z" fill="#29a9e1" stroke="#29a9e1" stroke-width="0.7" stroke-linejoin="round"/>
<g transform="scale(2.4,1)"><path d="M31.37,471.3 31.53,471.5 31.69,471.5 31.85,471.9 32.01,472.2 32.17,472.5 32.33,472.8 32.49,473 32.66,473.1 32.82,472.9 32.98,472.9 33.14,473.4 33.30,473.6 33.46,473.7 33.62,473.8 33.78,473.9 33.94,474.1 34.11,474.1 34.27,474.1 34.43,474.6 34.59,474.5 34.75,474.4 34.91,474.1 35.07,474.1 35.23,474.4 35.39,474.7 35.56,474.6 35.72,474.6 35.88,474.6 36.04,474.3 36.20,474.8 36.36,474.9 36.52,475.6 36.68,475.1 36.84,475 37.01,475.2 37.17,475 37.33,474.7 37.49,474.6 37.65,474.8 37.81,475 37.97,475.1 38.13,475.3 38.29,475.5 38.46,475.5 38.62,475.4 38.78,475.3 38.94,475.5 39.10,475.7 39.26,475.6 39.42,475.6 39.58,475.4 39.74,475 39.91,474.9 40.07,475.3 40.23,475.5 40.39,476 40.55,475.8 40.71,475.9 40.87,476.2 41.03,476.2 41.19,475.8 41.36,475.7 41.52,475.6 41.68,475.5 41.84,475.6 42.00,475.7 42.16,475.6 42.32,475.8 42.48,475.7 42.64,475.7 42.81,475.7 42.97,475.6 43.13,475.7 43.29,475.7 43.45,476 43.61,476 43.77,476 43.93,475.9 44.09,475.7 44.26,475.8 44.42,475.7 44.58,475.9 44.74,476 44.90,476.2 45.06,476.3 45.22,476.3 45.38,476.1 45.54,476 45.71,476 45.87,476 46.03,475.6 46.19,475.6 46.35,476 46.51,475.7 46.67,475.4 46.83,475.2 46.99,474.9 47.16,475.1 47.32,475.1 47.48,475.1 47.64,475.4 47.80,475.7 47.96,475.3 48.12,475.5 48.28,475.5 48.44,475.5 48.61,475.5 48.77,475.4 48.93,475.7 49.09,475.6 49.25,475.6 49.41,475.7 49.57,475.7 49.73,475.5 49.89,475.4 50.06,475.6 50.22,475.5 50.38,475.3 50.54,474.7 50.70,474.6 50.86,473.7 51.02,473.7 51.18,473.7 51.34,472 51.51,472.2 51.67,472.6 51.83,472.6 51.99,472 52.15,472.6 52.31,472.6 52.47,472.5 52.63,472.6 52.79,472.7 52.96,473 53.12,473.3 53.28,473.4 53.44,473.4 53.60,473.6 53.76,473.7 53.92,473.9 54.08,473.9 54.24,474.2 54.41,474.4 54.57,474.6 54.73,474.8 54.89,474.8 55.05,474.8 55.21,475 55.37,475.5 55.53,475.8 55.69,475.8 55.86,476.3 56.02,476.2 56.18,476.8 56.34,476.6 56.50,475.9 56.66,475.7 56.82,475.1 56.98,474.6 57.14,474 57.31,473.9 57.47,473.6 57.63,473.3 57.79,472.9 57.95,473.2 58.11,472.7 58.27,472.2 58.43,472.3 58.59,472.3 58.76,471.9 58.92,471.2 59.08,470.9 59.24,471 59.40,470.8 59.56,471 59.72,470.4 59.88,470.5 60.04,470.1 60.21,470.3 60.37,470 60.53,470.1 60.69,469.6 60.85,469 61.01,468.7 61.17,468.6 61.33,468.4 61.49,468.9 61.66,469.3 61.82,469.1 61.98,468.5 62.14,468.4 62.30,468.1 62.46,468.7 62.62,468.6 62.78,468.5 62.94,468.1 63.11,467.2 63.27,467.1 63.43,467 63.59,467.3 63.75,467.4 63.91,467.2 64.07,467.1 64.23,467.8 64.39,467.2 64.56,466.8 64.72,466.8 64.88,466.6 65.04,465.6 65.20,464.7 65.36,464.2 65.52,461.3 65.68,460.3 65.84,459.7 66.01,459 66.17,458.3 66.33,457.5 66.49,458.1 66.65,457.6 66.81,457.5 66.97,457.4 67.13,457.3 67.29,457.1 67.46,457.6 67.62,457.3 67.78,457.3 67.94,457.1 68.10,456.7 68.26,456.5 68.42,456.3 68.58,456.6 68.74,456.4 68.90,456.2 69.07,456.4 69.23,457 69.39,456.8 69.55,457.9 69.71,458.3 69.87,458.6 70.03,459.2 70.19,459.6 70.35,460 70.52,461.2 70.68,461.4 70.84,462 71.00,462.8 71.16,463.1 71.32,463.6 71.48,464.1 71.64,465 71.80,465 71.97,465.3 72.13,465.8 72.29,466.1 72.45,466.2 72.61,466.7 72.77,466.8 72.93,467.1 73.09,467.4 73.25,467.6 73.42,467.7 73.58,467.8 73.74,467.5 73.90,467.7 74.06,467.8 74.22,467.5 74.38,467.5 74.54,467.2 74.70,467.7 74.87,468.1 75.03,467.5 75.19,467.4 75.35,467.1 75.51,467.3 75.67,467.1 75.83,466.8 75.99,466.5 76.15,466.3 76.32,465.8 76.48,466 76.64,465.6 76.80,465.7 76.96,465.5 77.12,465.8 77.28,465.4 77.44,465.5 77.60,464.9 77.77,464.9 77.93,464.7 78.09,464.8 78.25,464.8 78.41,465.1 78.57,464.4 78.73,464.7 78.89,464.3 79.05,464.9 79.22,464.4 79.38,464.3 79.54,464.2 79.70,464.9 79.86,464.7 80.02,464.9 80.18,464.9 80.34,464.6 80.50,464.9 80.67,465.4 80.83,465.4 80.99,465.9 81.15,465.7 81.31,465.8 81.47,465.8 81.63,466 81.79,466.7 81.95,466.7 82.12,466.7 82.28,466.4 82.44,466.3 82.60,467 82.76,466.7 82.92,466.6 83.08,466.9 83.24,467 83.40,467.7 83.57,467.1 83.73,467.5 83.89,467.8 84.05,467.7 84.21,467.7 84.37,468 84.53,468.5 84.69,468.4 84.85,468.2 85.02,468.6 85.18,469 85.34,469 85.50,468.7 85.66,469.2 85.82,469.3 85.98,469.6 86.14,469.6 86.30,469.4 86.47,469.3 86.63,469.6 86.79,469.8 86.95,469 87.11,468.8 87.27,469.4 87.43,469.1 87.59,468.7 87.75,468.8 87.92,468.8 88.08,468.8 88.24,468.6 88.40,468.4 88.56,468.1 88.72,468.1 88.88,467.7 89.04,467.5 89.20,467.4 89.37,467.7 89.53,467.5 89.69,467.1 89.85,467.1 90.01,467 90.17,467.3 90.33,467.2 90.49,467.8 90.65,467.7 90.82,467.1 90.98,466.5 91.14,466.6 91.30,466.5 91.46,466.2 91.62,465.5 91.78,465.1 91.94,465.6 92.10,466 92.27,466.4 92.43,465.9 92.59,466.4 92.75,466.2 92.91,466.4 93.07,466.6 93.23,466.3 93.39,466.3 93.55,465.9 93.72,466 93.88,465.8 94.04,466.3 94.20,466.6 94.36,467 94.52,467.1 94.68,466.8 94.84,467 95.00,466.9 95.17,467.2 95.33,467.1 95.49,466.5 95.65,466.5 95.81,466.5 95.97,466.4 96.13,466.7 96.29,467.1 96.45,466.6 96.62,466.3 96.78,465.4 96.94,465.6 97.10,465.5 97.26,465 97.42,465.5 97.58,465.9 97.74,465.8 97.90,465.9 98.07,465.8 98.23,466.3 98.39,466 98.55,466.1 98.71,466.9 98.87,466.8 99.03,467.1 99.19,467.2 99.35,467.1 99.52,467.5 99.68,468 99.84,467.9 100.00,468.4 100.16,469.3 100.32,469.9 100.48,469.1 100.64,469.1 100.80,469 100.97,469.9 101.13,470.5 101.29,470.9 101.45,470.7 101.61,470.2 101.77,470.2 101.93,470.1 102.09,469.7 102.25,469.7 102.42,469.7 102.58,469.6 102.74,468.9 102.90,468.3 103.06,468.6 103.22,469 103.38,469.1 103.54,469.1 103.70,469.1 103.87,469.6 104.03,469.6 104.19,469.8 104.35,469.5 104.51,469.5 104.67,469.7 104.83,469.6 104.99,469.3 105.15,469.4 105.32,470 105.48,470 105.64,470.3 105.80,470 105.96,469.8 106.12,469.3 106.28,469.2 106.44,469.8 106.60,469.8 106.77,469.9 106.93,470 107.09,469.7 107.25,469.4 107.41,469.2 107.57,469.2 107.73,469.1 107.89,469 108.05,468.9 108.22,468.4 108.38,468.2 108.54,467.9 108.70,468.1 108.86,467.4 109.02,467.4 109.18,467.9 109.34,467.5 109.50,467 109.67,466.9 109.83,467.4 109.99,467.2 110.15,467.4 110.31,467.3 110.47,467 110.63,468 110.79,467.6 110.95,467.2 111.12,467 111.28,467.3 111.44,467.5 111.60,467.8 111.76,467.9 111.92,467.8 112.08,468.2 112.24,468.3 112.40,468.5 112.57,468.4 112.73,468.7 112.89,468.9 113.05,469.3 113.21,469.4 113.37,469.8 113.53,470.2 113.69,470.3 113.85,470.5 114.02,470.6 114.18,470.9 114.34,470.6 114.50,470.8 114.66,470.7 114.82,470.9 114.98,471.3 115.14,470.6 115.30,470.6 115.47,469.9 115.63,471 115.79,471 115.95,471 116.11,469.5 116.27,468.6 116.43,469.1 116.59,468.7 116.75,468.3 116.92,468.1 117.08,467.4 117.24,467.4 117.40,467.1 117.56,467 117.72,466.3 117.88,466.3 118.04,465.7 118.20,465.8 118.37,465.8 118.53,465.7 118.69,465.3 118.85,465 119.01,463.5 119.17,463.7 119.33,463.4 119.49,463.2 119.65,463 119.82,462.1 119.98,462 120.14,462.7 120.30,463.4 120.46,462.6 120.62,461.9 120.78,462.8 120.94,462.1 121.10,462.7 121.27,462.4 121.43,461.8 121.59,462 121.75,462.3 121.91,461.5 122.07,462 122.23,461.5 122.39,462 122.55,461.4 122.72,459.5 122.88,460.5 123.04,461.2 123.20,462.7 123.36,462.9 123.52,461.8 123.68,460 123.84,458.5 124.00,457.6 124.17,456.7 124.33,456.2 124.49,454.7 124.65,455.3 124.81,455.5 124.97,457.2 125.13,457 125.29,456 125.45,455.9 125.62,454.9 125.78,454.6 125.94,454 126.10,454.9 126.26,455.2 126.42,454.7 126.58,454.8 126.74,455.3 126.90,455.4 127.07,455.4 127.23,455.4 127.39,455.7 127.55,456.3 127.71,457.2 127.87,457.4 128.03,457.6 128.19,458.6 128.35,458.9 128.52,459.8 128.68,460.4 128.84,461.1 129.00,462 129.16,462.4 129.32,463 129.48,462.9 129.64,462.9 129.80,463.3 129.97,463.9 130.13,464.3 130.29,464.8 130.45,464.6 130.61,464.4 130.77,464.6 130.93,464.5 131.09,464.2 131.25,463.8 131.42,464 131.58,463.6 131.74,463.7 131.90,463.1 132.06,463.6 132.22,463 132.38,463.2 132.54,461.5 132.70,460.9 132.87,461.5 133.03,460.1 133.19,459.6 133.35,458.8 133.51,457.2 133.67,457.5 133.83,457.5 133.99,456.6 134.15,456.6 134.32,455.7 134.48,454.9 134.64,454.8 134.80,454.3 134.96,455.4 135.12,454.1 135.28,454.5 135.44,454.9 135.60,453.2 135.77,452.2 135.93,453 136.09,452.7 136.25,453.5 136.41,454.7 136.57,454.7 136.73,454.6 136.89,454.3 137.05,455.1 137.22,455.5 137.38,456.5 137.54,457.3 137.70,457.6 137.86,458.9 138.02,459.7 138.18,460.4 138.34,460.3 138.50,460.6 138.67,460.9 138.83,461.1 138.99,461.1 139.15,462 139.31,462.6 139.47,463.2 139.63,463.2 139.79,463.7 139.95,463.6 140.12,462.5 140.28,462.6 140.44,462.9 140.60,463.4 140.76,462.7 140.92,462 141.08,461.2 141.24,460.9 141.40,460.1 141.57,459.2 141.73,458.1 141.89,457.9 142.05,456.6 142.21,454.7 142.37,454.8 142.53,453.5 142.69,453.2 142.85,453.4 143.02,454.3 143.18,454.6 143.34,453.3 143.50,452.8 143.66,451.3 143.82,452.6 143.98,453.1 144.14,454 144.30,454.1 144.47,453.6 144.63,454.8 144.79,455.1 144.95,455.6 145.11,456 145.27,456.7 145.43,457.2 145.59,457.2 145.75,458 145.92,458.3 146.08,458.7 146.24,459.6 146.40,460.4 146.56,460.8 146.72,461.1 146.88,461.8 147.04,462.7 147.20,463.3 147.37,463.1 147.53,463.2 147.69,463.1 147.85,463.6 148.01,464.2 148.17,464.7 148.33,464.4 148.49,464.6 148.65,464.9 148.82,464.4 148.98,464.1 149.14,464.9 149.30,464.4 149.46,464.3 149.62,463.7 149.78,463.4 149.94,462.7 150.10,462.7 150.26,463.1 150.43,463.7 150.59,463.7 150.75,463.5 150.91,463.2 151.07,462.9 151.23,462.8 151.39,462.9 151.55,462.6 151.71,462.9 151.88,462.9 152.04,462.9 152.20,463.4 152.36,463.7 152.52,464.2 152.68,465.3 152.84,465.8 153.00,466.2 153.16,466.8 153.33,467.3 153.49,467.3 153.65,467.8 153.81,468.1 153.97,468.3 154.13,468.6 154.29,468.6 154.45,468.8 154.61,469.1 154.78,469.3 154.94,469.3 155.10,469.4 155.26,469.7 155.42,469.9 155.58,470 155.74,470.2 155.90,470 156.06,470 156.23,470.1 156.39,469.9 156.55,469.6 156.71,469.9 156.87,469.5 157.03,469.1 157.19,469.1 157.35,469.4 157.51,469.1 157.68,469.2 157.84,468.7 158.00,468.3 158.16,468 158.32,467.9 158.48,468.1 158.64,467.6 158.80,467.7 158.96,467.2 159.13,466.9 159.29,467 159.45,466.9 159.61,466.7 159.77,465.8 159.93,465.9 160.09,465.4 160.25,466.4 160.41,466 160.58,465.9 160.74,465.4 160.90,465.3 161.06,465 161.22,465.4 161.38,465.3 161.54,465.5 161.70,465.2 161.86,465.2 162.03,465.7 162.19,465.4 162.35,465.1 162.51,465.6 162.67,465.4 162.83,465.6 162.99,466.1 163.15,466 163.31,466.4 163.48,466.3 163.64,466.9 163.80,467.4 163.96,467 164.12,466.8 164.28,466.5 164.44,466.7 164.60,467.2 164.76,466.6 164.93,467.1 165.09,466.6 165.25,466.5 165.41,466.3 165.57,467.1 165.73,467.2 165.89,467.2 166.05,467 166.21,467.2 166.38,466.4 166.54,466.5 166.70,467.1 166.86,466.6 167.02,466.5 167.18,466.7 167.34,465.9 167.50,465.9 167.66,466.4 167.83,466 167.99,465.8 168.15,465.1 168.31,465 168.47,464.6 168.63,465.2 168.79,464.8 168.95,464.1 169.11,462.8 169.28,463 169.44,463 169.60,462.4 169.76,461.7 169.92,461.4 170.08,461.8 170.24,461.3 170.40,461.1 170.56,461.1 170.73,461.3 170.89,461 171.05,460.8 171.21,460.6 171.37,461.1 171.53,461.2 171.69,460.9 171.85,460.2 172.01,459.9 172.18,460.3 172.34,460.2 172.50,460.8 172.66,461.1 172.82,461.3 172.98,461.6 173.14,461.9 173.30,461.6 173.46,461.7 173.63,462.8 173.79,462.3 173.95,462.4 174.11,463 174.27,463 174.43,463 174.59,462.9 174.75,463.5 174.91,464.1 175.08,464.7 175.24,464.7 175.40,465.1 175.56,464.8 175.72,465.1 175.88,465.1 176.04,465.4 176.20,465.8 176.36,466.2 176.53,465.9 176.69,466.6 176.85,466.5 177.01,466.3 177.17,466.3 177.33,465.7 177.49,465.8 177.65,465.8 177.81,465.6 177.98,465.7 178.14,465.3 178.30,465.2 178.46,464.4 178.62,464.5 178.78,464 178.94,463.9 179.10,463.9 179.26,463.9 179.43,463.2 179.59,462.7 179.75,462.8 179.91,463.1 180.07,463.3 180.23,463.5 180.39,463.6 180.55,463.5 180.71,463.3 180.88,463 181.04,462.8 181.20,462.8 181.36,463.1 181.52,463.4 181.68,463.6 181.84,463.8 182.00,464.2 182.16,464.4 182.33,464.7 182.49,464.9 182.65,465 182.81,465.2 182.97,465.9 183.13,466.5 183.29,466.9 183.45,467.2 183.61,468.5 183.78,468.2 183.94,468.2 184.10,468.4 184.26,468 184.42,468.3 184.58,469.1 184.74,469.4 184.90,469.4 185.06,469.5 185.23,469.4 185.39,469.7 185.55,469.4 185.71,469.2 185.87,469.1 186.03,469.2 186.19,469.2 186.35,469.2 186.51,468.6 186.68,468.9 186.84,469.4 187.00,469.4 187.16,469 187.32,468.6 187.48,468.7 187.64,468.2 187.80,468.3 187.96,468 188.13,468 188.29,468.1 188.45,467.3 188.61,467.2 188.77,466.9 188.93,466.5 189.09,466.7 189.25,466.9 189.41,467.4 189.58,467.1 189.74,467.2 189.90,467.3 190.06,466.8 190.22,466.4 190.38,465.8 190.54,465.1 190.70,465 190.86,465 191.03,465.1 191.19,465.5 191.35,465.3 191.51,465.1 191.67,465.2 191.83,464.5 191.99,464 192.15,464 192.31,463.8 192.48,464.2 192.64,464.2 192.80,465 192.96,465.5 193.12,465.6 193.28,465.2 193.44,465.4 193.60,465.6 193.76,465 193.93,465.3 194.09,465.6 194.25,465.8 194.41,466.3 194.57,466.6 194.73,466.4 194.89,466.6 195.05,466.6 195.21,467 195.38,467.1 195.54,467.5 195.70,467.8 195.86,468.1 196.02,468 196.18,467.7 196.34,468.2 196.50,468.1 196.66,468.4 196.83,468.4 196.99,468.5 197.15,468.9 197.31,468.8 197.47,469.1 197.63,468.1 197.79,468.1 197.95,467.5 198.11,467 198.28,466.6 198.44,466.4 198.60,466.7 198.76,465.3 198.92,465 199.08,464.5 199.24,464.8 199.40,464.3 199.56,464.3 199.73,463.8 199.89,463.9 200.05,463.9 200.21,463.3 200.37,463.1 200.53,462.5 200.69,462.8 200.85,463.2 201.01,462.9 201.18,463.3 201.34,462.7 201.50,462.4 201.66,462.3 201.82,462.7 201.98,463.3 202.14,463.8 202.30,464.2 202.46,464.8 202.63,465.1 202.79,465.2 202.95,465.4 203.11,466.5 203.27,466 203.43,466.1 203.59,466.7 203.75,466.8 203.91,466.6 204.08,466.7 204.24,466.9 204.40,467.2 204.56,466.9 204.72,467.2 204.88,467.2 205.04,467.5 205.20,467.8 205.36,467.4 205.53,466.9 205.69,467.2 205.85,467.8 206.01,467.8 206.17,467.7 206.33,468.1 206.49,467.7 206.65,467.9 206.81,467.9 206.98,468.1 207.14,468.3 207.30,468.8 207.46,468.8 207.62,468.9 207.78,468.8 207.94,469.3 208.10,469.5 208.26,469.9 208.43,469.9 208.59,470.1 208.75,470.5 208.91,470.6 209.07,470.8 209.23,471 209.39,471 209.55,470.9 209.71,471.4 209.88,471.5 210.04,471.9 210.20,471.4 210.36,471.1 210.52,470.8 210.68,470.9 210.84,471.5 211.00,471.7 211.16,471.7 211.33,471.7 211.49,471.9 211.65,471.7 211.81,471.8 211.97,471.6 212.13,470.9 212.29,470.9 212.45,471.2 212.61,470.9 212.78,470.8 212.94,470.5 213.10,470.3 213.26,470.6 213.42,470.1 213.58,469.1 213.74,467.5 213.90,467.3 214.06,466.4 214.23,465.8 214.39,466 214.55,465.8 214.71,464.7 214.87,464.5 215.03,464 215.19,463.1 215.35,462.7 215.51,461.4 215.68,460.4 215.84,459.4 216.00,458.6 216.16,458.9 216.32,457.7 216.48,456.8 216.64,456.1 216.80,456 216.96,455.3 217.13,455.3 217.29,454.2 217.45,453.2 217.61,452.8 217.77,452.5 217.93,451.6 218.09,451.6 218.25,452.4 218.41,450.9 218.58,448.7 218.74,447.5 218.90,444.5 219.06,441.6 219.22,439.8 219.38,439.8 219.54,439.5 219.70,438.4 219.86,438.1 220.03,439.2 220.19,439.7 220.35,438.6 220.51,438.8 220.67,439 220.83,439.5 220.99,439.9 221.15,440.2 221.31,440.7 221.48,440.6 221.64,441.7 221.80,442.3 221.96,443.6 222.12,444.1 222.28,445.1 222.44,445.8 222.60,446.6 222.76,448 222.93,448.9 223.09,450.9 223.25,452.3 223.41,454.2 223.57,455.5 223.73,456.9 223.89,458.2 224.05,459.7 224.21,461 224.38,462.1 224.54,463.5 224.70,464.4 224.86,464.8 225.02,465.2 225.18,465.4 225.34,465.6 225.50,466 225.66,466.2 225.83,466.6 225.99,467.2 226.15,467.3 226.31,466.9 226.47,466.4 226.63,466.3 226.79,466.2 226.95,466.4 227.11,466.1 227.28,465.9 227.44,466 227.60,465.5 227.76,465.2 227.92,465.6 228.08,465.6 228.24,465.2 228.40,464.8 228.56,464.2 228.73,464.1 228.89,463.8 229.05,463.6 229.21,463.1 229.37,462.9 229.53,462.6 229.69,462.6 229.85,463 230.01,462.6 230.18,461.5 230.34,461 230.50,460.4 230.66,460.4 230.82,460.8 230.98,461 231.14,460.9 231.30,461 231.46,460.9 231.62,460.6 231.79,460.4 231.95,460.4 232.11,460.9 232.27,460.5 232.43,460.8 232.59,460.9 232.75,460.6 232.91,460.3 233.07,459.9 233.24,459.8 233.40,459.9 233.56,459.7 233.72,459.8 233.88,459.9 234.04,459.6 234.20,459.5 234.36,459.4 234.52,459.5 234.69,459.1 234.85,459.4 235.01,459.5 235.17,459.2 235.33,460.1 235.49,459.6 235.65,459.3 235.81,459.5 235.97,458.9 236.14,458.8 236.30,458.4 236.46,458.3 236.62,458.5 236.78,458.6 236.94,459 237.10,459.1 237.26,459.4 237.42,459.2 237.59,458.1 237.75,457.8 237.91,456.5 238.07,455.4 238.23,455.4 238.39,454.8 238.55,453.9 238.71,453.3 238.87,452.8 239.04,450.5 239.20,449.6 239.36,447.9 239.52,447.5 239.68,446.5 239.84,446.5 240.00,446 240.16,445.4 240.32,445.2 240.49,444.5 240.65,444.6 240.81,444.8 240.97,444.7 241.13,443.5 241.29,443.5 241.45,444.3 241.61,444.8 241.77,445.6 241.94,445.4 242.10,446 242.26,446.2 242.42,446.9 242.58,448 242.74,449 242.90,449.6 243.06,450.6 243.22,451.2 243.39,451.8 243.55,452.6 243.71,453.1 243.87,453.1 244.03,453.4 244.19,454 244.35,455 244.51,455.6 244.67,456 244.84,455.5 245.00,455.6 245.16,455.9 245.32,456.1 245.48,456.2 245.64,456.1 245.80,456.8 245.96,457.1 246.12,456.7 246.29,456.3 246.45,456.8 246.61,456.5 246.77,456.9 246.93,457.3 247.09,456.8 247.25,456.9 247.41,456.8 247.57,457 247.74,457.2 247.90,457.8 248.06,457.8 248.22,457.6 248.38,457.9 248.54,457.7 248.70,457.7 248.86,458.8 249.02,458.5 249.19,458.6 249.35,458.9 249.51,459 249.67,458.8 249.83,459.8 249.99,459.9 250.15,459.9 250.31,459.8 250.47,459.6 250.64,459.4 250.80,459.6 250.96,460.5 251.12,460.5 251.28,460.4 251.44,459.3 251.60,459 251.76,458.2 251.92,458.4 252.09,458 252.25,457.7 252.41,457.3 252.57,456.8 252.73,455.8 252.89,456 253.05,454.8 253.21,454 253.37,453.8 253.54,453.2 253.70,453.3 253.86,453.8 254.02,453.3 254.18,452.8 254.34,452 254.50,452 254.66,449.9 254.82,449.8 254.99,448.9 255.15,447.9 255.31,447.7 255.47,447.1 255.63,446.9 255.79,446.5 255.95,443.7 256.11,443 256.27,443.6 256.44,442.8 256.60,442.3 256.76,440.6 256.92,438 257.08,436.5 257.24,436.7 257.40,436.9 257.56,435.1 257.72,434.2 257.89,433.7 258.05,431.7 258.21,431.7 258.37,433.2 258.53,434.6 258.69,433.2 258.85,433.9 259.01,432.3 259.17,431.1 259.34,429.3 259.50,430.7 259.66,430.8 259.82,432.7 259.98,432.6 260.14,432.6 260.30,431.6 260.46,433.3 260.62,434 260.79,435 260.95,434.7 261.11,437.1 261.27,438.9 261.43,439.6 261.59,440.4 261.75,441.2 261.91,442.1 262.07,442.5 262.24,443.8 262.40,443.8 262.56,443.9 262.72,444.2 262.88,443.1 263.04,442.6 263.20,443.2 263.36,442.9 263.52,441.6 263.69,441.5 263.85,439.3 264.01,439.3 264.17,439.7 264.33,439.9 264.49,439 264.65,439.2 264.81,439.7 264.97,438.7 265.14,438.8 265.30,437.7 265.46,436.9 265.62,437.5 265.78,437.5 265.94,437.6 266.10,437.3 266.26,437.2 266.42,437.6 266.59,438.3 266.75,437.6 266.91,436.3 267.07,437.4 267.23,437.6 267.39,437.7 267.55,437.4 267.71,438.7 267.87,438.4 268.04,438.7 268.20,437.3 268.36,437.6 268.52,437.9 268.68,438.7 268.84,439.2 269.00,438.6 269.16,439.5 269.32,438.4 269.49,437.9 269.65,438 269.81,437 269.97,437.1 270.13,436.9 270.29,436 270.45,436.5 270.61,435.5 270.77,434.8 270.94,433.9 271.10,433.2 271.26,433.1 271.42,433.1 271.58,432.9 271.74,433.7 271.90,431.9 272.06,431.8 272.22,431.6 272.39,432.9 272.55,432.9 272.71,433 272.87,432.9 273.03,433.6 273.19,433.5 273.35,433.8 273.51,433.1 273.67,434 273.84,434.2 274.00,434.5 274.16,435 274.32,434.6 274.48,434.4 274.64,434.8 274.80,434.9 274.96,434.6 275.12,434.6 275.29,434.3 275.45,434.8 275.61,435.2 275.77,434.9 275.93,435.4 276.09,434.3 276.25,434.1 276.41,434.5 276.57,434.1 276.74,433.2 276.90,434 277.06,434 277.22,433 277.38,433.5 277.54,432.7 277.70,431.9 277.86,432 278.02,431.9 278.19,431.4 278.35,431.4 278.51,431 278.67,431.3 278.83,431.3 278.99,431.6 279.15,431.2 279.31,430.6 279.47,430.2 279.64,430.2 279.80,431 279.96,431.1 280.12,430.4 280.28,430.7 280.44,429.7 280.60,430.2 280.76,429.6 280.92,429.7 281.09,429.7 281.25,428.9 281.41,428.7 281.57,427.6 281.73,427.5 281.89,428 282.05,430.7 282.21,430.4 282.37,429.9 282.54,429.1 282.70,430 282.86,429.2 283.02,429.4 283.18,430.2 283.34,430 283.50,430.6 283.66,430.5 283.82,429.5 283.99,428.6 284.15,427.5 284.31,426.6 284.47,426.9 284.63,427 284.79,426.8 284.95,426.7 285.11,426.1 285.27,426.2 285.44,425.1 285.60,425.3 285.76,426.2 285.92,426.6 286.08,425.7 286.24,425.2 286.40,426 286.56,427 286.72,425.2 286.89,425.1 287.05,425.7 287.21,426.9 287.37,426.2 287.53,426.8 287.69,426.4 287.85,427.7 288.01,427.3 288.17,426.7 288.34,426.1 288.50,426.8 288.66,426.9 288.82,425.5 288.98,425.7 289.14,424.2 289.30,423 289.46,421.2 289.62,419.6 289.79,419 289.95,417.8 290.11,418.8 290.27,419.4 290.43,417.9 290.59,415.2 290.75,416.5 290.91,412 291.07,409.6 291.24,411.7 291.40,412.6 291.56,413.2 291.72,411.9 291.88,409.7 292.04,409.3 292.20,410.1 292.36,408.9 292.52,408.1 292.69,406.6 292.85,405.8 293.01,407.6 293.17,408.1 293.33,406.3 293.49,405.2 293.65,406.3 293.81,408.6 293.97,408.4 294.14,409.7 294.30,409.6 294.46,410.5 294.62,412.4 294.78,414.1 294.94,413.9 295.10,414.3 295.26,415.9 295.42,416.3 295.59,416.2 295.75,416.9 295.91,417 296.07,417.8 296.23,418.1 296.39,417.1 296.55,416.9 296.71,416.8 296.87,416 297.04,416.3 297.20,418.3 297.36,417.7 297.52,419.7 297.68,420.6 297.84,420.8 298.00,421.1 298.16,421.2 298.32,421.8 298.49,420.9 298.65,420.4 298.81,419.9 298.97,422.4 299.13,422.6 299.29,418.7 299.45,416.4 299.61,413.9 299.77,412.7 299.94,411.6 300.10,413.8 300.26,406.5 300.42,406.3 300.58,404 300.74,399.2 300.90,396.5 301.06,393.2 301.22,391.1 301.39,390.4 301.55,384.2 301.71,384.6 301.87,380.6 302.03,380.5 302.19,377.5 302.35,376.5 302.51,373.8 302.67,372.2 302.84,368.3 303.00,363.2 303.16,363 303.32,363.8 303.48,367 303.64,360.6 303.80,360.4 303.96,363.2 304.12,361.4 304.29,362.3 304.45,367.2 304.61,369.4 304.77,366.9 304.93,369.5 305.09,370.7 305.25,371 305.41,371 305.57,371.1 305.74,370.6 305.90,370.9 306.06,372.4 306.22,373.5 306.38,376.2 306.54,376.8 306.70,376.7 306.86,378.3 307.02,380.2 307.19,382.1 307.35,383.5 307.51,384.2 307.67,387.4 307.83,387.9 307.99,390.2 308.15,391.1 308.31,391.3 308.47,395 308.64,393.3 308.80,394.8 308.96,397.2 309.12,398.4 309.28,400.5 309.44,401.4 309.60,402.1 309.76,405.3 309.92,405.5 310.09,406.2 310.25,406.4 310.41,407.2 310.57,408.5 310.73,409.3 310.89,409.7 311.05,409.7 311.21,410.7 311.37,410.2 311.54,410.8 311.70,411.4 311.86,411.1 312.02,411 312.18,410.3 312.34,409.6 312.50,410.6 312.66,410.4 312.82,410.5 312.98,409.4 313.15,409.1 313.31,408.2 313.47,407.5 313.63,407.5 313.79,405.3 313.95,404 314.11,402.6 314.27,398.6 314.43,397.5 314.60,397.7 314.76,397.9 314.92,396.7 315.08,397 315.24,397 315.40,395.3 315.56,395.3 315.72,395.2 315.88,394.4 316.05,392.8 316.21,394 316.37,393 316.53,392.1 316.69,392 316.85,391.1 317.01,392.4 317.17,393.1 317.33,394.2 317.50,394.2 317.66,392.8 317.82,392.8 317.98,393.7 318.14,393.5 318.30,395.5 318.46,394.8 318.62,394.1 318.78,394.9 318.95,395.2 319.11,394.8 319.27,394.4 319.43,394.8 319.59,395.4 319.75,395.7 319.91,395 320.07,395.3 320.23,396.4 320.40,397.4 320.56,394.3 320.72,395.1 320.88,395.9 321.04,397.2 321.20,398.7 321.36,400.4 321.52,401.8 321.68,402.6 321.85,403.6 322.01,406 322.17,406.2 322.33,407.4 322.49,409.5 322.65,410.4 322.81,409.4 322.97,411.2 323.13,412 323.30,413.2 323.46,415.2 323.62,416.3 323.78,417 323.94,418.5 324.10,419.4 324.26,419.4 324.42,419.7 324.58,420 324.75,419.8 324.91,419.8 325.07,420.2 325.23,419.9 325.39,419.5 325.55,420.9 325.71,420.5 325.87,420.4 326.03,420.1 326.20,420.1 326.36,419.9 326.52,419.8 326.68,419.2 326.84,419.8 327.00,419.1 327.16,418.9 327.32,416.2 327.48,414.5 327.65,415.2 327.81,413.7 327.97,411.6 328.13,411.4 328.29,408.8 328.45,408.2 328.61,404.1 328.77,403.6 328.93,402.5 329.10,402.8 329.26,402.7 329.42,400.3 329.58,400.9 329.74,398.5 329.90,395.1 330.06,393 330.22,394.7 330.38,394.2 330.55,393.2 330.71,392.2 330.87,391.1 331.03,391.6 331.19,390.7 331.35,391.7 331.51,390.1 331.67,386.3 331.83,387.5 332.00,386.6 332.16,385.8 332.32,387.4 332.48,385.7 332.64,386.2 332.80,385.5 332.96,384.5 333.12,385.5 333.28,384.8 333.45,386.8 333.61,387.7 333.77,387.3 333.93,387.7 334.09,388 334.25,387.8 334.41,388.7 334.57,388.6 334.73,389.3 334.90,388.9 335.06,389.5 335.22,390.3 335.38,390.2 335.54,390.5 335.70,390.9 335.86,392.3 336.02,392.6 336.18,393.8 336.35,395.4 336.51,396 336.67,395.4 336.83,396.5 336.99,398 337.15,398.3 337.31,399.6 337.47,400.1 337.63,400.4 337.80,400 337.96,399.5 338.12,399.7 338.28,400.3 338.44,401.8 338.60,402.5 338.76,401.7 338.92,401.6 339.08,400.7 339.25,395.9 339.41,393.9 339.57,392.1 339.73,389.4 339.89,385.9 340.05,382.4 340.21,377.7 340.37,376.8 340.53,375.3 340.70,370.7 340.86,369.6 341.02,366.5 341.18,367.8 341.34,364.7 341.50,362.1 341.66,360.4 341.82,358.2 341.98,356.2 342.15,356.6 342.31,354.1 342.47,353.3 342.63,353.1 342.79,348.9 342.95,349.8 343.11,348.4 343.27,347.4 343.43,344.1 343.60,345.5 343.76,346 343.92,345.2 344.08,348.9 344.24,348.9 344.40,347.9 344.56,347.1 344.72,347.1 344.88,347.4 345.05,346.4 345.21,346.7 345.37,347.1 345.53,341.9 345.69,341.3 345.85,340.2 346.01,341.9 346.17,345.9 346.33,347 346.50,344.9 346.66,344.5 346.82,345.9 346.98,344.7 347.14,344.4 347.30,344.7 347.46,342.5 347.62,343.8 347.78,343.7 347.95,343.7 348.11,341.5 348.27,340 348.43,339.1 348.59,339.8 348.75,339.6 348.91,339.4 349.07,343.2 349.23,345.4 349.40,343.8 349.56,343.4 349.72,347.6 349.88,347.3 350.04,349.1 350.20,351 350.36,350.1 350.52,350.1 350.68,350.8 350.85,350.3 351.01,349.9 351.17,350.4 351.33,353.2 351.49,352.5 351.65,352.6 351.81,352.4 351.97,350.6 352.13,355 352.30,350 352.46,350.5 352.62,352.4 352.78,350.7 352.94,352.3 353.10,354 353.26,352.4 353.42,352.6 353.58,350.6 353.75,351.7 353.91,351.5 354.07,351.5 354.23,353 354.39,352.4 354.55,353.2 354.71,352.5 354.87,349.2 355.03,349.6 355.20,350.1 355.36,347.7 355.52,350.2 355.68,349.9 355.84,350.2 356.00,349 356.16,350.2 356.32,351.5 356.48,351.8 356.65,352.8 356.81,351 356.97,354.5 357.13,353.9 357.29,352.7 357.45,353.7 357.61,354.8 357.77,357.6 357.93,357.6 358.10,359.6 358.26,359.8 358.42,363 358.58,363.2 358.74,364.6 358.90,363 359.06,363.5 359.22,362.6 359.38,363.3 359.55,364 359.71,362.1 359.87,361.3 360.03,360.9 360.19,360.2 360.35,360.6 360.51,360.6 360.67,359.9 360.83,361.4 361.00,363 361.16,361.3 361.32,361.9 361.48,363.3 361.64,364.1 361.80,364.3 361.96,366.1 362.12,367.3 362.28,367 362.45,365.2 362.61,367.2 362.77,367.8 362.93,364.1 363.09,362 363.25,362.2 363.41,358.6 363.57,357.8 363.73,356.3 363.90,353.7 364.06,352.3 364.22,348.8 364.38,348.7 364.54,346 364.70,351.9 364.86,353.9 365.02,354 365.18,352.6 365.35,352.5 365.51,352.6 365.67,352 365.83,350.5 365.99,347 366.15,346 366.31,343.7 366.47,340.9 366.63,338.7 366.80,339.1 366.96,339.7 367.12,336.2 367.28,339.1 367.44,340.2 367.60,337.2 367.76,335 367.92,334 368.08,335.3 368.25,333.9 368.41,331.6 368.57,333.4 368.73,329.3 368.89,331.7 369.05,335.3 369.21,335.7 369.37,337 369.53,337 369.70,337.2 369.86,336.2 370.02,333.7 370.18,333.2 370.34,333.1 370.50,334.6 370.66,336.4 370.82,336.3 370.98,335.3 371.15,334.8 371.31,335.2 371.47,338 371.63,338.3 371.79,338.1 371.95,336.7 372.11,337.8 372.27,337.5 372.43,336.7 372.60,336.2 372.76,338.1 372.92,336.3 373.08,338.6 373.24,339.1 373.40,337.4 373.56,338.4 373.72,336.7 373.88,334.3 374.05,334.2 374.21,333.4 374.37,334.9 374.53,335.3 374.69,336.1 374.85,336.7 375.01,333.3 375.17,334.7 375.33,332.6 375.50,334.2 375.66,333.4 375.82,334.5 375.98,337.4 376.14,334.5 376.30,336.8 376.46,338.2 376.62,336.4 376.78,340.1 376.95,341.8 377.11,342.2 377.27,342.6 377.43,349.7 377.59,348.4 377.75,345.9 377.91,345.8 378.07,346.9 378.23,347.9 378.40,349.3 378.56,349.4 378.72,351.4 378.88,351.6 379.04,350 379.20,349.5 379.36,349.5 379.52,350.8 379.68,351 379.85,350 380.01,349.6 380.17,349.5 380.33,351.2 380.49,349 380.65,348.2 380.81,347.6 380.97,345.9 381.13,345.4 381.30,344.8 381.46,343.6 381.62,343.7 381.78,344.4 381.94,344.6 382.10,341 382.26,339.2 382.42,342.5 382.58,336 382.75,333.9 382.91,332.9 383.07,329.7 383.23,328 383.39,324.8 383.55,323.6 383.71,323.1 383.87,318.2 384.03,315.2 384.20,312 384.36,308.5 384.52,306.2 384.68,301.9 384.84,303.1 385.00,305.3 385.16,306.7 385.32,306.9 385.48,303.8 385.65,305 385.81,303.6 385.97,305 386.13,308.1 386.29,308.2 386.45,310.4 386.61,312 386.77,313.3 386.93,314.3 387.10,316.6 387.26,318 387.42,321 387.58,324.3 387.74,322.8 387.90,324 388.06,325.6 388.22,325.5 388.38,326.2 388.55,329.5 388.71,331.5 388.87,330.7 389.03,332.4 389.19,335.8 389.35,335.1 389.51,335.7 389.67,340.2 389.83,342.7 390.00,340.7 390.16,339.3 390.32,340.5 390.48,339.2 390.64,339.6 390.80,339.5 390.96,340.7 391.12,338 391.28,337.8 391.45,338.8 391.61,341.6 391.77,342.4 391.93,341.5 392.09,343.3 392.25,344.9 392.41,344.7 392.57,343.9 392.73,344.1 392.89,345.1 393.06,344.1 393.22,343.8 393.38,342.7 393.54,341.5 393.70,339.8 393.86,340.3 394.02,339.9 394.18,339.7 394.34,340.6 394.51,340.7 394.67,341 394.83,338.5 394.99,339.5 395.15,338.3 395.31,337.7 395.47,337.4 395.63,339.9 395.79,340.9 395.96,339.7 396.12,338.6 396.28,339.7 396.44,340.2 396.60,343.3 396.76,341.9 396.92,340.8 397.08,342.3 397.24,343.8 397.41,344 397.57,344.9 397.73,347.2 397.89,345 398.05,343.2 398.21,340.1 398.37,341.1 398.53,342.4 398.69,341.6 398.86,343.2 399.02,342.5 399.18,344.2 399.34,343.5 399.50,340.9 399.66,340.1 399.82,338.5 399.98,337.2 400.14,338.4 400.31,339.6 400.47,341.4 400.63,339.7 400.79,338.2 400.95,336 401.11,336.6 401.27,335.3 401.43,332.6 401.59,332.2 401.76,331.2 401.92,325.8 402.08,326.6 402.24,326.4 402.40,324.8 402.56,323.5 402.72,328.1 402.88,329.3 403.04,329.5 403.21,325.2 403.37,323.5 403.53,325 403.69,323 403.85,322.5 404.01,321.2 404.17,324.3 404.33,325.8 404.49,326 404.66,325.7 404.82,324.3 404.98,322.2 405.14,322.1 405.30,318.6 405.46,320 405.62,316.4 405.78,312.6 405.94,314.7 406.11,311.2 406.27,310 406.43,305.9 406.59,298.4 406.75,299.4 406.91,294.7 407.07,297.9 407.23,293.9 407.39,290.5 407.56,292.9 407.72,294.4 407.88,294.6 408.04,292.6 408.20,293.2 408.36,289 408.52,288 408.68,286.2 408.84,285.4 409.01,287 409.17,286.4 409.33,289.3 409.49,291.8 409.65,288.3 409.81,289.3 409.97,293.7 410.13,297.6 410.29,302.7 410.46,303.9 410.62,308.8 410.78,312.7 410.94,315 411.10,316.3 411.26,319.4 411.42,321.9 411.58,324.4 411.74,326 411.91,328.1 412.07,329.1 412.23,331.7 412.39,331.2 412.55,332.4 412.71,334.9 412.87,335.3 413.03,338.2 413.19,338.7 413.36,340.9 413.52,341.8 413.68,343.3 413.84,345.3 414.00,346.7 414.16,347.9 414.32,350.9 414.48,349.8 414.64,348.1 414.81,348.8 414.97,349 415.13,349.4 415.29,349.9 415.45,347.8 415.61,348.1 415.77,348.3 415.93,347.5 416.09,347.1 416.26,345 416.42,345.1 416.58,346.4 416.74,345.2 416.90,345.1 417.06,345.7 417.22,346.5 417.38,348 417.54,346.7 417.71,347.3 417.87,348.3 418.03,347.8 418.19,348.3 418.35,350 418.51,350.9 418.67,351.2 418.83,349.6 418.99,350.4 419.16,351.4 419.32,351.8 419.48,352.4 419.64,355.1 419.80,354.6 419.96,354.1 420.12,354.7 420.28,354.9 420.44,355.2 420.61,355.7 420.77,357 420.93,356.8 421.09,354.4 421.25,353.9 421.41,354.1 421.57,352.6 421.73,353.5 421.89,353.2 422.06,350.3 422.22,349.7 422.38,351.3 422.54,351.4 422.70,348.7 422.86,348 423.02,345.1 423.18,342.1 423.34,342.7 423.51,342.4 423.67,342.2 423.83,341.1 423.99,340.5 424.15,338.8 424.31,338.8 424.47,339.1 424.63,337.8 424.79,338.1 424.96,334.2 425.12,333.2 425.28,334.8 425.44,336.6 425.60,336.7 425.76,336.6 425.92,335.4 426.08,336.9 426.24,338.6 426.41,336.9 426.57,337.7 426.73,338 426.89,337.9 427.05,336 427.21,336.5 427.37,334.5 427.53,336.2 427.69,335.7 427.86,333.3 428.02,333.3 428.18,332.4 428.34,329 428.50,330 428.66,325.6 428.82,324.1 428.98,324.4 429.14,319.9 429.31,320.7 429.47,319.5 429.63,318.5 429.79,316.4 429.95,316.2 430.11,314.2 430.27,312.5 430.43,311.3 430.59,308.7 430.76,311.4 430.92,307.5 431.08,305.6 431.24,304.8 431.40,304 431.56,304.3 431.72,303.9 431.88,301.1 432.04,298.7 432.21,297.4 432.37,297.9 432.53,298.3 432.69,296.3 432.85,291.6 433.01,297.9 433.17,298.9 433.33,297.8" fill="none" stroke="#14284b" stroke-width="1.65" stroke-linejoin="round" stroke-linecap="round"/></g>
<g class="ylab"><text x="1052" y="133.2" textLength="73.2" lengthAdjust="spacingAndGlyphs">200,000</text><text x="1052" y="177.3" textLength="66.6" lengthAdjust="spacingAndGlyphs">175,000</text><text x="1052" y="221.5" textLength="68.9" lengthAdjust="spacingAndGlyphs">150,000</text><text x="1052" y="265.6" textLength="66.9" lengthAdjust="spacingAndGlyphs">125,000</text><text x="1052" y="309.8" textLength="70.0" lengthAdjust="spacingAndGlyphs">100,000</text><text x="1052" y="353.9" textLength="59.6" lengthAdjust="spacingAndGlyphs">75,000</text><text x="1052" y="398.1" textLength="61.6" lengthAdjust="spacingAndGlyphs">50,000</text><text x="1052" y="442.2" textLength="60.2" lengthAdjust="spacingAndGlyphs">25,000</text><text x="1052" y="486.4" textLength="11.9" lengthAdjust="spacingAndGlyphs">0</text></g>
<rect x="1052.3" y="180" width="72" height="22" fill="#29a9e1"/>
<text x="1053.5" y="197" textLength="62.5" lengthAdjust="spacingAndGlyphs" style="font:bold 17px 'Liberation Sans',sans-serif;fill:#fff">167,707</text>
<text class="leg" transform="translate(1158.6,362) rotate(-90)" textLength="115" lengthAdjust="spacingAndGlyphs">Contracts</text>
<g class="xlab"><text x="66.7" y="522.6" textLength="44.6" lengthAdjust="spacingAndGlyphs">2015</text><text x="164.2" y="522.6" textLength="44.6" lengthAdjust="spacingAndGlyphs">2016</text><text x="261.8" y="522.6" textLength="43.0" lengthAdjust="spacingAndGlyphs">2017</text><text x="359.3" y="522.6" textLength="44.6" lengthAdjust="spacingAndGlyphs">2018</text><text x="456.8" y="522.6" textLength="44.5" lengthAdjust="spacingAndGlyphs">2019</text><text x="554.4" y="522.6" textLength="47.7" lengthAdjust="spacingAndGlyphs">2020</text><text x="651.9" y="522.6" textLength="43.7" lengthAdjust="spacingAndGlyphs">2021</text><text x="749.4" y="522.6" textLength="46.5" lengthAdjust="spacingAndGlyphs">2022</text><text x="846.9" y="522.6" textLength="46.5" lengthAdjust="spacingAndGlyphs">2023</text><text x="944.5" y="522.6" textLength="47.3" lengthAdjust="spacingAndGlyphs">2024</text><text x="1042.0" y="522.6" textLength="47.3" lengthAdjust="spacingAndGlyphs">2025</text></g>
<text class="src" y="589"><tspan x="39.00" textLength="64.51" lengthAdjust="spacingAndGlyphs">Source:</tspan> <tspan x="111.50" textLength="36.98" lengthAdjust="spacingAndGlyphs">CME</tspan> <tspan x="154.00" textLength="53.00" lengthAdjust="spacingAndGlyphs">Group</tspan></text>
<line x1="384.8" x2="428.8" y1="579.3" y2="579.3" stroke="#29a9e1" stroke-width="3"/>
<text class="leg" y="587.2"><tspan x="436.50" textLength="85.99" lengthAdjust="spacingAndGlyphs">Volume</tspan></text>
<line x1="560" x2="603.3" y1="579.3" y2="579.3" stroke="#14284b" stroke-width="3"/>
<text class="leg" y="587.2"><tspan x="611.00" textLength="85.99" lengthAdjust="spacingAndGlyphs">Volume</tspan> <tspan x="703.99" textLength="57.01" lengthAdjust="spacingAndGlyphs">(30D</tspan> <tspan x="771.01" textLength="44.99" lengthAdjust="spacingAndGlyphs">MA)</tspan></text>
</svg>
</body></html>
